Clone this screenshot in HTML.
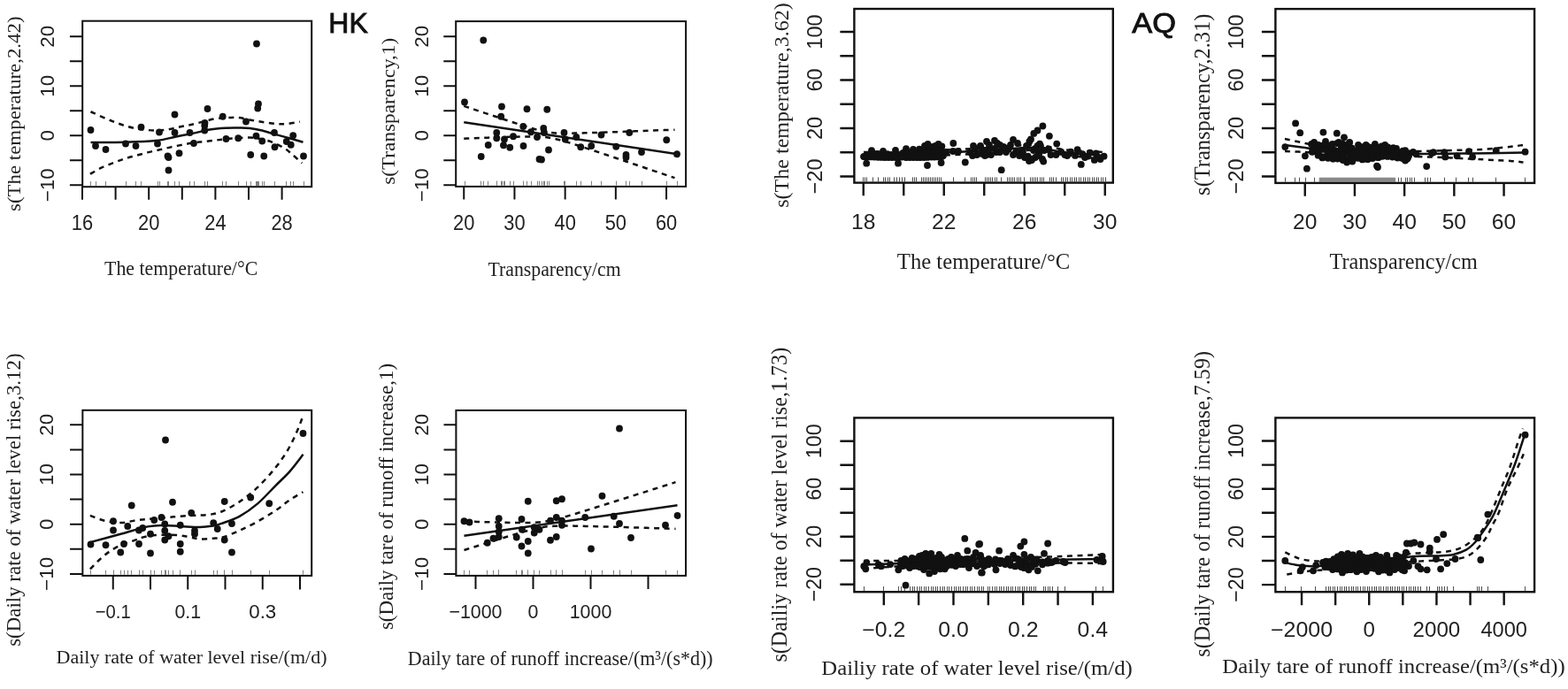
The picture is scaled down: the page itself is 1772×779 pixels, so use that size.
<!DOCTYPE html>
<html><head><meta charset="utf-8"><title>GAM partial effects HK AQ</title><style>
html,body{margin:0;padding:0;background:#fff;}
body{width:1772px;height:779px;overflow:hidden;}
svg{display:block;}
.box{fill:none;stroke:#111;}
.tick{fill:none;stroke:#111;}
.rug{fill:none;stroke-width:1;}
.solid{fill:none;stroke:#111;stroke-width:2.5;stroke-linejoin:round;}
.dash{fill:none;stroke:#111;stroke-width:2.5;stroke-dasharray:6 5.5;}
.pts circle{fill:#111;}
text{fill:#252525;}
.tl{fill:#222;font-family:"Liberation Sans", sans-serif;}
.ttl{fill:#222;font-family:"Liberation Serif", serif;}
.lab{fill:#111;stroke:#111;stroke-width:0.9px;font-family:"Liberation Sans", sans-serif;}
</style></head><body>
<svg width="1772" height="779" viewBox="0 0 1772 779">
<rect width="1772" height="779" fill="#fff"/>
<g>
<path class="rug" d="M102.5,210 v-5 M108.5,210 v-5 M119.5,210 v-5 M142.5,210 v-5 M153.5,210 v-5 M159.5,210 v-5 M178.5,210 v-5 M180.5,210 v-5 M190.5,210 v-5 M189.5,210 v-5 M190.5,210 v-5 M197.5,210 v-5 M197.5,210 v-5 M202.5,210 v-5 M214.5,210 v-5 M219.5,210 v-5 M231.5,210 v-5 M231.5,210 v-5 M231.5,210 v-5 M234.5,210 v-5 M251.5,210 v-5 M255.5,210 v-5 M269.5,210 v-5 M278.5,210 v-5 M283.5,210 v-5 M290.5,210 v-5 M292.5,210 v-5 M291.5,210 v-5 M289.5,210 v-5 M296.5,210 v-5 M298.5,210 v-5 M310.5,210 v-5 M310.5,210 v-5 M323.5,210 v-5 M328.5,210 v-5 M331.5,210 v-5 M343.5,210 v-5" stroke="#808080"/>
<path class="solid" d="M102.5,161 C108.92,160.97 128.75,161.12 141,160.8 C153.25,160.48 166.33,160.15 176,159.1 C185.67,158.05 191.67,155.95 199,154.5 C206.33,153.05 213.67,151.73 220,150.4 C226.33,149.07 231.22,147.45 237,146.5 C242.78,145.55 249.2,145.03 254.7,144.7 C260.2,144.37 265.38,144.47 270,144.5 C274.62,144.53 278.07,144.4 282.4,144.9 C286.73,145.4 291.38,146.38 296,147.5 C300.62,148.62 305.1,150.18 310.1,151.6 C315.1,153.02 320.6,154.47 326,156 C331.4,157.53 339.75,160 342.5,160.8"/>
<path class="dash" d="M102.5,126.25 C106.25,127.92 117.08,133.21 125,136.25 C132.92,139.29 140.83,142.62 150,144.5 C159.17,146.38 170.42,147.83 180,147.5 C189.58,147.17 200.83,143.75 207.5,142.5 C214.17,141.25 214.08,141.37 220,140 C225.92,138.63 236.5,135.45 243,134.3 C249.5,133.15 254.5,133.3 259,133.1 C263.5,132.9 265.67,132.62 270,133.1 C274.33,133.58 280.23,135.13 285,136 C289.77,136.87 294.03,137.63 298.6,138.3 C303.17,138.97 308.17,139.72 312.4,140 C316.63,140.28 319.57,140.38 324,140 C328.43,139.62 336.5,138.08 339,137.7"/>
<path class="dash" d="M101.9,196.7 C104.02,195.53 110.17,191.82 114.6,189.7 C119.03,187.58 124.07,185.73 128.5,184 C132.93,182.27 136.97,180.65 141.2,179.3 C145.43,177.95 149.67,177.05 153.9,175.9 C158.13,174.75 162.35,173.47 166.6,172.4 C170.85,171.33 175.15,170.47 179.4,169.5 C183.65,168.53 187.68,167.57 192.1,166.6 C196.52,165.63 201.28,164.6 205.9,163.7 C210.52,162.8 215.92,161.78 219.8,161.2 C223.68,160.62 225.12,160.65 229.2,160.2 C233.28,159.75 238.83,159.12 244.3,158.5 C249.77,157.88 255.65,156.98 262,156.5 C268.35,156.02 276.73,155.43 282.4,155.6 C288.07,155.77 291.77,156.63 296,157.5 C300.23,158.37 303.52,159.08 307.8,160.8 C312.08,162.52 317.83,165.38 321.7,167.8 C325.57,170.22 327.73,172.52 331,175.3 C334.27,178.08 339.58,182.97 341.3,184.5"/>
<g class="pts"><circle cx="102.5" cy="147" r="3.9"/><circle cx="108" cy="165" r="3.9"/><circle cx="119.5" cy="169" r="3.9"/><circle cx="142" cy="162.5" r="3.9"/><circle cx="153.5" cy="165" r="3.9"/><circle cx="159.5" cy="143.75" r="3.9"/><circle cx="178" cy="162.5" r="3.9"/><circle cx="180" cy="149.5" r="3.9"/><circle cx="190.5" cy="178" r="3.9"/><circle cx="189.5" cy="176.5" r="3.9"/><circle cx="190.5" cy="192.5" r="3.9"/><circle cx="197.5" cy="129.5" r="3.9"/><circle cx="197.5" cy="150" r="3.9"/><circle cx="202.5" cy="173.25" r="3.9"/><circle cx="214.5" cy="150" r="3.9"/><circle cx="219" cy="162" r="3.9"/><circle cx="231.25" cy="147.5" r="3.9"/><circle cx="231.25" cy="142" r="3.9"/><circle cx="231.5" cy="139" r="3.9"/><circle cx="234.5" cy="123" r="3.9"/><circle cx="251.75" cy="131.75" r="3.9"/><circle cx="255.5" cy="157" r="3.9"/><circle cx="269.25" cy="156.25" r="3.9"/><circle cx="278" cy="137.5" r="3.9"/><circle cx="283.25" cy="175" r="3.9"/><circle cx="290" cy="49.5" r="3.9"/><circle cx="292" cy="117.5" r="3.9"/><circle cx="291.25" cy="122.5" r="3.9"/><circle cx="289.5" cy="153.75" r="3.9"/><circle cx="296.25" cy="159.5" r="3.9"/><circle cx="298.25" cy="176.5" r="3.9"/><circle cx="310" cy="150" r="3.9"/><circle cx="310.5" cy="166.25" r="3.9"/><circle cx="323.75" cy="160" r="3.9"/><circle cx="328.75" cy="163.75" r="3.9"/><circle cx="331.25" cy="153.25" r="3.9"/><circle cx="343" cy="176.5" r="3.9"/></g>
<rect class="box" x="93.2" y="23.7" width="259" height="187.5" stroke-width="2"/>
<path class="tick" d="M93.2,41.3 h-14.3 M93.2,69.3 h-14.3 M93.2,97.3 h-14.3 M93.2,125.3 h-14.3 M93.2,153.3 h-14.3 M93.2,181.3 h-14.3 M93.2,209.3 h-14.3" stroke-width="2"/>
<path class="tick" d="M93,211.2 v14.5 M130.6,211.2 v14.5 M168.2,211.2 v14.5 M205.8,211.2 v14.5 M243.4,211.2 v14.5 M281,211.2 v14.5 M318.6,211.2 v14.5" stroke-width="2"/>
<text class="tl" transform="rotate(-90)" x="-41.3" y="60.6" font-size="22" text-anchor="middle" textLength="24.96" lengthAdjust="spacingAndGlyphs">20</text>
<text class="tl" transform="rotate(-90)" x="-97.3" y="60.6" font-size="22" text-anchor="middle" textLength="24.96" lengthAdjust="spacingAndGlyphs">10</text>
<text class="tl" transform="rotate(-90)" x="-153.3" y="60.6" font-size="22" text-anchor="middle" textLength="12.48" lengthAdjust="spacingAndGlyphs">0</text>
<text class="tl" transform="rotate(-90)" x="-209.3" y="60.6" font-size="22" text-anchor="middle" textLength="38.06" lengthAdjust="spacingAndGlyphs">−10</text>
<text class="tl" x="93" y="260.1" font-size="23.5" text-anchor="middle" textLength="24.31" lengthAdjust="spacingAndGlyphs">16</text>
<text class="tl" x="168.2" y="260.1" font-size="23.5" text-anchor="middle" textLength="24.31" lengthAdjust="spacingAndGlyphs">20</text>
<text class="tl" x="243.4" y="260.1" font-size="23.5" text-anchor="middle" textLength="24.31" lengthAdjust="spacingAndGlyphs">24</text>
<text class="tl" x="318.6" y="260.1" font-size="23.5" text-anchor="middle" textLength="24.31" lengthAdjust="spacingAndGlyphs">28</text>
<text class="ttl" x="118.11" y="311.2" font-size="23.06" textLength="173.1" lengthAdjust="spacingAndGlyphs">The temperature/°C</text>
<text class="ttl" transform="rotate(-90)" x="-239.04" y="22.8" font-size="21.62" textLength="220.65" lengthAdjust="spacingAndGlyphs">s(The temperature,2.42)</text>
</g>
<g>
<path class="rug" d="M546.5,209.7 v-5 M525.5,209.7 v-5 M567.5,209.7 v-5 M566.5,209.7 v-5 M595.5,209.7 v-5 M618.5,209.7 v-5 M591.5,209.7 v-5 M561.5,209.7 v-5 M561.5,209.7 v-5 M570.5,209.7 v-5 M580.5,209.7 v-5 M551.5,209.7 v-5 M569.5,209.7 v-5 M576.5,209.7 v-5 M591.5,209.7 v-5 M600.5,209.7 v-5 M607.5,209.7 v-5 M614.5,209.7 v-5 M615.5,209.7 v-5 M620.5,209.7 v-5 M609.5,209.7 v-5 M612.5,209.7 v-5 M543.5,209.7 v-5 M637.5,209.7 v-5 M638.5,209.7 v-5 M651.5,209.7 v-5 M656.5,209.7 v-5 M668.5,209.7 v-5 M679.5,209.7 v-5 M696.5,209.7 v-5 M707.5,209.7 v-5 M707.5,209.7 v-5 M711.5,209.7 v-5 M725.5,209.7 v-5 M753.5,209.7 v-5 M765.5,209.7 v-5" stroke="#808080"/>
<polyline class="solid" points="524.25,138.25 765,174.25"/>
<path class="dash" d="M524.25,119.81 C525.24,120.14 528.23,121.15 530.21,121.82 C532.2,122.49 534.17,123.15 536.16,123.82 C538.14,124.49 540.13,125.15 542.12,125.82 C544.11,126.49 546.1,127.15 548.08,127.82 C550.07,128.49 552.04,129.16 554.03,129.82 C556.01,130.48 558,131.14 559.99,131.8 C561.98,132.46 563.96,133.12 565.94,133.78 C567.93,134.44 569.91,135.1 571.9,135.76 C573.89,136.42 575.88,137.07 577.86,137.72 C579.85,138.37 581.82,139.01 583.81,139.65 C585.79,140.29 587.78,140.94 589.77,141.57 C591.76,142.2 593.75,142.83 595.73,143.44 C597.72,144.05 599.69,144.65 601.68,145.23 C603.66,145.81 605.65,146.39 607.64,146.91 C609.62,147.43 611.61,147.94 613.59,148.37 C615.58,148.8 617.56,149.19 619.55,149.5 C621.54,149.81 623.52,150.03 625.51,150.21 C627.5,150.39 629.48,150.49 631.46,150.57 C633.45,150.65 635.43,150.69 637.42,150.71 C639.41,150.73 641.39,150.71 643.38,150.7 C645.37,150.69 647.35,150.65 649.33,150.62 C651.32,150.59 653.3,150.55 655.29,150.5 C657.27,150.45 659.25,150.4 661.24,150.34 C663.23,150.28 665.21,150.23 667.2,150.17 C669.19,150.11 671.17,150.04 673.16,149.98 C675.14,149.91 677.12,149.85 679.11,149.78 C681.1,149.71 683.09,149.65 685.07,149.58 C687.06,149.51 689.03,149.43 691.02,149.36 C693,149.29 694.99,149.22 696.98,149.15 C698.97,149.08 700.96,149 702.94,148.93 C704.93,148.86 706.9,148.79 708.89,148.71 C710.88,148.63 712.86,148.56 714.85,148.48 C716.84,148.4 718.82,148.32 720.81,148.25 C722.79,148.18 724.77,148.1 726.76,148.03 C728.75,147.96 730.74,147.88 732.72,147.8 C734.71,147.72 736.68,147.65 738.67,147.57 C740.65,147.49 742.64,147.41 744.63,147.33 C746.62,147.25 748.61,147.18 750.59,147.1 C752.58,147.02 754.55,146.95 756.54,146.87 C758.52,146.79 761.51,146.68 762.5,146.64"/>
<path class="dash" d="M524.25,156.69 C525.24,156.65 528.23,156.53 530.21,156.46 C532.2,156.39 534.17,156.31 536.16,156.24 C538.14,156.17 540.13,156.09 542.12,156.02 C544.11,155.95 546.1,155.87 548.08,155.8 C550.07,155.73 552.04,155.66 554.03,155.59 C556.01,155.52 558,155.45 559.99,155.38 C561.98,155.31 563.96,155.25 565.94,155.18 C567.93,155.12 569.91,155.05 571.9,154.99 C573.89,154.93 575.88,154.88 577.86,154.82 C579.85,154.76 581.82,154.71 583.81,154.66 C585.79,154.61 587.78,154.57 589.77,154.53 C591.76,154.49 593.75,154.46 595.73,154.44 C597.72,154.42 599.69,154.4 601.68,154.42 C603.66,154.44 605.65,154.46 607.64,154.53 C609.62,154.6 611.61,154.69 613.59,154.85 C615.58,155.01 617.56,155.21 619.55,155.5 C621.54,155.79 623.52,156.16 625.51,156.57 C627.5,156.98 629.48,157.48 631.46,157.99 C633.45,158.5 635.43,159.07 637.42,159.64 C639.41,160.21 641.39,160.81 643.38,161.42 C645.37,162.03 647.35,162.65 649.33,163.28 C651.32,163.91 653.3,164.55 655.29,165.19 C657.27,165.83 659.25,166.48 661.24,167.13 C663.23,167.78 665.21,168.43 667.2,169.08 C669.19,169.73 671.17,170.39 673.16,171.05 C675.14,171.71 677.12,172.37 679.11,173.03 C681.1,173.69 683.09,174.36 685.07,175.02 C687.06,175.68 689.03,176.34 691.02,177.01 C693,177.67 694.99,178.34 696.98,179.01 C698.97,179.68 700.96,180.34 702.94,181.01 C704.93,181.68 706.9,182.34 708.89,183.01 C710.88,183.68 712.86,184.35 714.85,185.02 C716.84,185.69 718.82,186.36 720.81,187.03 C722.79,187.7 724.77,188.37 726.76,189.04 C728.75,189.71 730.74,190.38 732.72,191.05 C734.71,191.72 736.68,192.39 738.67,193.06 C740.65,193.73 742.64,194.4 744.63,195.07 C746.62,195.74 748.61,196.42 750.59,197.09 C752.58,197.76 754.55,198.43 756.54,199.1 C758.52,199.77 761.51,200.78 762.5,201.12"/>
<g class="pts"><circle cx="546.25" cy="45.5" r="3.9"/><circle cx="525" cy="115.5" r="3.9"/><circle cx="567" cy="120.5" r="3.9"/><circle cx="566.25" cy="131.75" r="3.9"/><circle cx="595.5" cy="123.25" r="3.9"/><circle cx="618.25" cy="123.75" r="3.9"/><circle cx="591.25" cy="143" r="3.9"/><circle cx="561.25" cy="150" r="3.9"/><circle cx="561.25" cy="156.25" r="3.9"/><circle cx="570" cy="157.5" r="3.9"/><circle cx="580" cy="154.25" r="3.9"/><circle cx="551.75" cy="164" r="3.9"/><circle cx="569" cy="164.25" r="3.9"/><circle cx="576.25" cy="166.75" r="3.9"/><circle cx="591.5" cy="165" r="3.9"/><circle cx="600" cy="149.25" r="3.9"/><circle cx="607" cy="155" r="3.9"/><circle cx="614.25" cy="145" r="3.9"/><circle cx="615" cy="150" r="3.9"/><circle cx="620" cy="169.5" r="3.9"/><circle cx="609.5" cy="180" r="3.9"/><circle cx="612" cy="180.5" r="3.9"/><circle cx="543.75" cy="177" r="3.9"/><circle cx="637.5" cy="150" r="3.9"/><circle cx="638.75" cy="157.5" r="3.9"/><circle cx="651.25" cy="155" r="3.9"/><circle cx="656.25" cy="166.25" r="3.9"/><circle cx="668.25" cy="165" r="3.9"/><circle cx="679.5" cy="152.5" r="3.9"/><circle cx="696.25" cy="165.75" r="3.9"/><circle cx="707.5" cy="178" r="3.9"/><circle cx="707.5" cy="175" r="3.9"/><circle cx="711.25" cy="150" r="3.9"/><circle cx="725" cy="172" r="3.9"/><circle cx="753.25" cy="158.25" r="3.9"/><circle cx="765" cy="174.25" r="3.9"/></g>
<rect class="box" x="515.2" y="24.1" width="259.9" height="186.8" stroke-width="2"/>
<path class="tick" d="M515.2,41.3 h-13.9 M515.2,69.3 h-13.9 M515.2,97.3 h-13.9 M515.2,125.3 h-13.9 M515.2,153.3 h-13.9 M515.2,181.3 h-13.9 M515.2,209.3 h-13.9" stroke-width="2"/>
<path class="tick" d="M524.25,210.9 v14.5 M581.45,210.9 v14.5 M638.65,210.9 v14.5 M695.85,210.9 v14.5 M753.05,210.9 v14.5" stroke-width="2"/>
<text class="tl" transform="rotate(-90)" x="-41.3" y="483.8" font-size="22" text-anchor="middle" textLength="24.96" lengthAdjust="spacingAndGlyphs">20</text>
<text class="tl" transform="rotate(-90)" x="-97.3" y="483.8" font-size="22" text-anchor="middle" textLength="24.96" lengthAdjust="spacingAndGlyphs">10</text>
<text class="tl" transform="rotate(-90)" x="-153.3" y="483.8" font-size="22" text-anchor="middle" textLength="12.48" lengthAdjust="spacingAndGlyphs">0</text>
<text class="tl" transform="rotate(-90)" x="-209.3" y="483.8" font-size="22" text-anchor="middle" textLength="38.06" lengthAdjust="spacingAndGlyphs">−10</text>
<text class="tl" x="524.25" y="260.1" font-size="23.5" text-anchor="middle" textLength="24.31" lengthAdjust="spacingAndGlyphs">20</text>
<text class="tl" x="581.45" y="260.1" font-size="23.5" text-anchor="middle" textLength="24.31" lengthAdjust="spacingAndGlyphs">30</text>
<text class="tl" x="638.65" y="260.1" font-size="23.5" text-anchor="middle" textLength="24.31" lengthAdjust="spacingAndGlyphs">40</text>
<text class="tl" x="695.85" y="260.1" font-size="23.5" text-anchor="middle" textLength="24.31" lengthAdjust="spacingAndGlyphs">50</text>
<text class="tl" x="753.05" y="260.1" font-size="23.5" text-anchor="middle" textLength="24.31" lengthAdjust="spacingAndGlyphs">60</text>
<text class="ttl" x="551.56" y="311.85" font-size="23.82" textLength="150.08" lengthAdjust="spacingAndGlyphs">Transparency/cm</text>
<text class="ttl" transform="rotate(-90)" x="-208.84" y="446.2" font-size="21.08" textLength="166.05" lengthAdjust="spacingAndGlyphs">s(Transparency,1)</text>
</g>
<g>
<path class="rug" d="M975.5,205.4 v-5 M977.5,205.4 v-5 M979.5,205.4 v-5 M986.5,205.4 v-5 M992.5,205.4 v-5 M998.5,205.4 v-5 M1000.5,205.4 v-5 M1003.5,205.4 v-5 M1005.5,205.4 v-5 M1010.5,205.4 v-5 M1013.5,205.4 v-5 M1016.5,205.4 v-5 M1019.5,205.4 v-5 M1022.5,205.4 v-5 M1031.5,205.4 v-5 M1033.5,205.4 v-5 M1035.5,205.4 v-5 M1041.5,205.4 v-5 M1043.5,205.4 v-5 M1045.5,205.4 v-5 M1047.5,205.4 v-5 M1049.5,205.4 v-5 M1051.5,205.4 v-5 M1053.5,205.4 v-5 M1055.5,205.4 v-5 M1057.5,205.4 v-5 M1059.5,205.4 v-5 M1061.5,205.4 v-5 M1063.5,205.4 v-5 M1077.5,205.4 v-5 M1090.5,205.4 v-5 M1097.5,205.4 v-5 M1099.5,205.4 v-5 M1101.5,205.4 v-5 M1103.5,205.4 v-5 M1113.5,205.4 v-5 M1115.5,205.4 v-5 M1117.5,205.4 v-5 M1119.5,205.4 v-5 M1121.5,205.4 v-5 M1124.5,205.4 v-5 M1126.5,205.4 v-5 M1131.5,205.4 v-5 M1138.5,205.4 v-5 M1140.5,205.4 v-5 M1142.5,205.4 v-5 M1144.5,205.4 v-5 M1146.5,205.4 v-5 M1149.5,205.4 v-5 M1151.5,205.4 v-5 M1153.5,205.4 v-5 M1157.5,205.4 v-5 M1164.5,205.4 v-5 M1166.5,205.4 v-5 M1168.5,205.4 v-5 M1170.5,205.4 v-5 M1172.5,205.4 v-5 M1175.5,205.4 v-5 M1177.5,205.4 v-5 M1179.5,205.4 v-5 M1186.5,205.4 v-5 M1188.5,205.4 v-5 M1190.5,205.4 v-5 M1193.5,205.4 v-5 M1199.5,205.4 v-5 M1201.5,205.4 v-5 M1204.5,205.4 v-5 M1206.5,205.4 v-5 M1209.5,205.4 v-5 M1211.5,205.4 v-5 M1214.5,205.4 v-5 M1216.5,205.4 v-5 M1219.5,205.4 v-5 M1221.5,205.4 v-5 M1224.5,205.4 v-5 M1226.5,205.4 v-5 M1229.5,205.4 v-5 M1231.5,205.4 v-5 M1234.5,205.4 v-5 M1236.5,205.4 v-5 M1239.5,205.4 v-5 M1241.5,205.4 v-5 M1244.5,205.4 v-5 M1246.5,205.4 v-5 M1249.5,205.4 v-5" stroke="#505050"/>
<path class="solid" d="M976,176 C983.33,175.83 1006,175.5 1020,175 C1034,174.5 1046.67,173.67 1060,173 C1073.33,172.33 1088.33,171.67 1100,171 C1111.67,170.33 1120,169.67 1130,169 C1140,168.33 1152.5,167.33 1160,167 C1167.5,166.67 1170,166.5 1175,167 C1180,167.5 1184.17,169 1190,170 C1195.83,171 1200.33,172 1210,173 C1219.67,174 1241.67,175.5 1248,176"/>
<path class="dash" d="M976,172 C983.33,172 1006,172.33 1020,172 C1034,171.67 1046.67,170.67 1060,170 C1073.33,169.33 1088.33,168.67 1100,168 C1111.67,167.33 1120,166.67 1130,166 C1140,165.33 1152.5,164.33 1160,164 C1167.5,163.67 1170,163.5 1175,164 C1180,164.5 1184.17,166 1190,167 C1195.83,168 1200.33,169.17 1210,170 C1219.67,170.83 1241.67,171.67 1248,172"/>
<path class="dash" d="M976,180 C983.33,179.67 1006,178.67 1020,178 C1034,177.33 1046.67,176.67 1060,176 C1073.33,175.33 1088.33,174.67 1100,174 C1111.67,173.33 1120,172.67 1130,172 C1140,171.33 1152.5,170.33 1160,170 C1167.5,169.67 1170,169.5 1175,170 C1180,170.5 1184.17,172 1190,173 C1195.83,174 1200.33,174.83 1210,176 C1219.67,177.17 1241.67,179.33 1248,180"/>
<g class="pts"><circle cx="977.03" cy="176.83" r="3.9"/><circle cx="976" cy="177.1" r="3.9"/><circle cx="978.9" cy="176.52" r="3.9"/><circle cx="980" cy="177.27" r="3.9"/><circle cx="983.18" cy="176.22" r="3.9"/><circle cx="984" cy="177.43" r="3.9"/><circle cx="987.45" cy="173.53" r="3.9"/><circle cx="988" cy="177.6" r="3.9"/><circle cx="991.83" cy="173.8" r="3.9"/><circle cx="992" cy="177.77" r="3.9"/><circle cx="996.34" cy="174.69" r="3.9"/><circle cx="996" cy="177.93" r="3.9"/><circle cx="1000.82" cy="175.56" r="3.9"/><circle cx="1000" cy="178.1" r="3.9"/><circle cx="1002.9" cy="174.03" r="3.9"/><circle cx="1004" cy="178.1" r="3.9"/><circle cx="1007.4" cy="174.9" r="3.9"/><circle cx="1008" cy="178.1" r="3.9"/><circle cx="1011.81" cy="175.32" r="3.9"/><circle cx="1012" cy="178.1" r="3.9"/><circle cx="1016.12" cy="175.33" r="3.9"/><circle cx="1016" cy="178.1" r="3.9"/><circle cx="1020.46" cy="172.92" r="3.9"/><circle cx="1019.3" cy="177.49" r="3.9"/><circle cx="1024.77" cy="172.8" r="3.9"/><circle cx="1023.62" cy="177.38" r="3.9"/><circle cx="1024" cy="178.1" r="3.9"/><circle cx="1029.06" cy="172.51" r="3.9"/><circle cx="1027.9" cy="177.09" r="3.9"/><circle cx="1028" cy="178.1" r="3.9"/><circle cx="1030.94" cy="172.24" r="3.9"/><circle cx="1032.19" cy="176.82" r="3.9"/><circle cx="1032" cy="178.1" r="3.9"/><circle cx="1035.11" cy="171.35" r="3.9"/><circle cx="1036.36" cy="175.93" r="3.9"/><circle cx="1036" cy="178.1" r="3.9"/><circle cx="1038.94" cy="168.56" r="3.9"/><circle cx="1040.19" cy="173.14" r="3.9"/><circle cx="1039.04" cy="177.71" r="3.9"/><circle cx="1040" cy="178.1" r="3.9"/><circle cx="1045.18" cy="168.17" r="3.9"/><circle cx="1044.02" cy="170.34" r="3.9"/><circle cx="1042.87" cy="174.92" r="3.9"/><circle cx="1044" cy="178.1" r="3.9"/><circle cx="1046.87" cy="166.95" r="3.9"/><circle cx="1048.12" cy="169.12" r="3.9"/><circle cx="1046.97" cy="173.7" r="3.9"/><circle cx="1048" cy="177.96" r="3.9"/><circle cx="1051.09" cy="166.24" r="3.9"/><circle cx="1052.34" cy="168.42" r="3.9"/><circle cx="1051.18" cy="173" r="3.9"/><circle cx="1052.43" cy="177.57" r="3.9"/><circle cx="1055.3" cy="165.54" r="3.9"/><circle cx="1056.55" cy="167.72" r="3.9"/><circle cx="1055.4" cy="172.29" r="3.9"/><circle cx="1056.65" cy="176.87" r="3.9"/><circle cx="1056" cy="177.58" r="3.9"/><circle cx="1059.5" cy="164.84" r="3.9"/><circle cx="1060.74" cy="167.01" r="3.9"/><circle cx="1059.59" cy="171.59" r="3.9"/><circle cx="1060.84" cy="176.16" r="3.9"/><circle cx="1060" cy="177.39" r="3.9"/><circle cx="1064.38" cy="165.47" r="3.9"/><circle cx="1063.23" cy="170.05" r="3.9"/><circle cx="1064.48" cy="172.23" r="3.9"/><circle cx="1064" cy="177.2" r="3.9"/><circle cx="985" cy="170.2" r="3.9"/><circle cx="998" cy="170.8" r="3.9"/><circle cx="1012" cy="169.8" r="3.9"/><circle cx="1024" cy="168.2" r="3.9"/><circle cx="1032" cy="168.8" r="3.9"/><circle cx="979.2" cy="184.7" r="3.9"/><circle cx="1015" cy="184.7" r="3.9"/><circle cx="1048" cy="187" r="3.9"/><circle cx="1063.6" cy="184" r="3.9"/><circle cx="1045" cy="165" r="3.9"/><circle cx="1048.5" cy="163" r="3.9"/><circle cx="1057.4" cy="164.9" r="3.9"/><circle cx="1060.5" cy="162.9" r="3.9"/><circle cx="1063" cy="170" r="3.9"/><circle cx="1066" cy="176" r="3.9"/><circle cx="1069" cy="172" r="3.9"/><circle cx="1077.3" cy="162" r="3.9"/><circle cx="1077" cy="171" r="3.9"/><circle cx="1083" cy="171" r="3.9"/><circle cx="1090.8" cy="183.5" r="3.9"/><circle cx="1100" cy="165" r="3.9"/><circle cx="1096" cy="172" r="3.9"/><circle cx="1104" cy="175" r="3.9"/><circle cx="1099" cy="176" r="3.9"/><circle cx="1102" cy="168" r="3.9"/><circle cx="1115" cy="160" r="3.9"/><circle cx="1124" cy="159" r="3.9"/><circle cx="1112" cy="170" r="3.9"/><circle cx="1118" cy="168" r="3.9"/><circle cx="1130" cy="164" r="3.9"/><circle cx="1135" cy="167" r="3.9"/><circle cx="1113" cy="176" r="3.9"/><circle cx="1126" cy="172" r="3.9"/><circle cx="1120" cy="175" r="3.9"/><circle cx="1108" cy="166" r="3.9"/><circle cx="1110" cy="174" r="3.9"/><circle cx="1131.7" cy="192.2" r="3.9"/><circle cx="1145" cy="158" r="3.9"/><circle cx="1150" cy="162" r="3.9"/><circle cx="1140" cy="168" r="3.9"/><circle cx="1148" cy="172" r="3.9"/><circle cx="1155" cy="170" r="3.9"/><circle cx="1160" cy="165" r="3.9"/><circle cx="1158" cy="178" r="3.9"/><circle cx="1163" cy="182" r="3.9"/><circle cx="1142" cy="164" r="3.9"/><circle cx="1152" cy="176" r="3.9"/><circle cx="1145" cy="175" r="3.9"/><circle cx="1178.4" cy="142.5" r="3.9"/><circle cx="1172.5" cy="147.5" r="3.9"/><circle cx="1168.3" cy="150.9" r="3.9"/><circle cx="1165" cy="157.5" r="3.9"/><circle cx="1163.3" cy="160" r="3.9"/><circle cx="1185.9" cy="153.8" r="3.9"/><circle cx="1160.8" cy="165.9" r="3.9"/><circle cx="1161.7" cy="176.7" r="3.9"/><circle cx="1165" cy="180" r="3.9"/><circle cx="1172.5" cy="165" r="3.9"/><circle cx="1174.2" cy="174.2" r="3.9"/><circle cx="1179.2" cy="182.6" r="3.9"/><circle cx="1175" cy="162.6" r="3.9"/><circle cx="1185" cy="168.4" r="3.9"/><circle cx="1187.5" cy="175" r="3.9"/><circle cx="1194.2" cy="162.6" r="3.9"/><circle cx="1193.4" cy="175" r="3.9"/><circle cx="1199.2" cy="171.7" r="3.9"/><circle cx="1203.4" cy="175" r="3.9"/><circle cx="1210" cy="171.7" r="3.9"/><circle cx="1215" cy="175.9" r="3.9"/><circle cx="1217.6" cy="169.2" r="3.9"/><circle cx="1221.8" cy="185.9" r="3.9"/><circle cx="1223.4" cy="174.2" r="3.9"/><circle cx="1229.3" cy="176.7" r="3.9"/><circle cx="1231.8" cy="172.6" r="3.9"/><circle cx="1236.8" cy="180.9" r="3.9"/><circle cx="1238.5" cy="173.4" r="3.9"/><circle cx="1243.5" cy="180" r="3.9"/><circle cx="1247.6" cy="176.7" r="3.9"/><circle cx="1168" cy="170" r="3.9"/><circle cx="1170" cy="178" r="3.9"/><circle cx="1180" cy="170" r="3.9"/><circle cx="1206" cy="176" r="3.9"/><circle cx="1226" cy="178" r="3.9"/><circle cx="1240" cy="177" r="3.9"/><circle cx="1108" cy="165" r="3.9"/><circle cx="1112" cy="170" r="3.9"/><circle cx="1118" cy="164" r="3.9"/><circle cx="1124" cy="168" r="3.9"/><circle cx="1130" cy="172" r="3.9"/><circle cx="1134" cy="166" r="3.9"/><circle cx="1127" cy="162" r="3.9"/><circle cx="1156" cy="172" r="3.9"/><circle cx="1160" cy="178" r="3.9"/><circle cx="1166" cy="181" r="3.9"/><circle cx="1170" cy="168" r="3.9"/><circle cx="1173" cy="176" r="3.9"/><circle cx="1176" cy="165" r="3.9"/><circle cx="1178" cy="180" r="3.9"/><circle cx="1115" cy="175" r="3.9"/><circle cx="1137" cy="172" r="3.9"/></g>
<rect class="box" x="965.4" y="10" width="292.4" height="196.6" stroke-width="2.4"/>
<path class="tick" d="M965.4,36.05 h-16 M965.4,63.28 h-16 M965.4,90.51 h-16 M965.4,117.74 h-16 M965.4,144.97 h-16 M965.4,172.2 h-16 M965.4,199.43 h-16" stroke-width="2.4"/>
<path class="tick" d="M975.75,206.6 v14.75 M1021.25,206.6 v14.75 M1066.75,206.6 v14.75 M1112.25,206.6 v14.75 M1157.75,206.6 v14.75 M1203.25,206.6 v14.75 M1248.75,206.6 v14.75" stroke-width="2.4"/>
<text class="tl" transform="rotate(-90)" x="-36.05" y="928.6" font-size="24.3" text-anchor="middle" textLength="39.33" lengthAdjust="spacingAndGlyphs">100</text>
<text class="tl" transform="rotate(-90)" x="-90.51" y="928.6" font-size="24.3" text-anchor="middle" textLength="26.22" lengthAdjust="spacingAndGlyphs">60</text>
<text class="tl" transform="rotate(-90)" x="-144.97" y="928.6" font-size="24.3" text-anchor="middle" textLength="26.22" lengthAdjust="spacingAndGlyphs">20</text>
<text class="tl" transform="rotate(-90)" x="-199.43" y="928.6" font-size="24.3" text-anchor="middle" textLength="39.98" lengthAdjust="spacingAndGlyphs">−20</text>
<text class="tl" x="975.75" y="258.6" font-size="24.6" text-anchor="middle" textLength="27.36" lengthAdjust="spacingAndGlyphs">18</text>
<text class="tl" x="1066.75" y="258.6" font-size="24.6" text-anchor="middle" textLength="27.36" lengthAdjust="spacingAndGlyphs">22</text>
<text class="tl" x="1157.75" y="258.6" font-size="24.6" text-anchor="middle" textLength="27.36" lengthAdjust="spacingAndGlyphs">26</text>
<text class="tl" x="1248.75" y="258.6" font-size="24.6" text-anchor="middle" textLength="27.36" lengthAdjust="spacingAndGlyphs">30</text>
<text class="ttl" x="1013.85" y="304.3" font-size="24.44" textLength="195.41" lengthAdjust="spacingAndGlyphs">The temperature/°C</text>
<text class="ttl" transform="rotate(-90)" x="-234.79" y="890.6" font-size="23.92" textLength="231.59" lengthAdjust="spacingAndGlyphs">s(The temperature,3.62)</text>
</g>
<g>
<path class="rug" d="M1452.5,205.7 v-5 M1463.5,205.7 v-5 M1468.5,205.7 v-5 M1475.5,205.7 v-5 M1485.5,205.7 v-5 M1580.5,205.7 v-5 M1583.5,205.7 v-5 M1588.5,205.7 v-5 M1590.5,205.7 v-5 M1593.5,205.7 v-5 M1595.5,205.7 v-5 M1598.5,205.7 v-5 M1610.5,205.7 v-5 M1613.5,205.7 v-5 M1616.5,205.7 v-5 M1632.5,205.7 v-5 M1645.5,205.7 v-5 M1659.5,205.7 v-5 M1664.5,205.7 v-5 M1690.5,205.7 v-5 M1723.5,205.7 v-5" stroke="#505050"/>
<rect x="1490.7" y="200.7" width="86.4" height="5" fill="#8a8a8a"/>
<path class="solid" d="M1452,164 C1455.83,164.5 1467,166 1475,167 C1483,168 1487.5,169 1500,170 C1512.5,171 1533.33,172.33 1550,173 C1566.67,173.67 1581.67,173.92 1600,174 C1618.33,174.08 1639.67,173.75 1660,173.5 C1680.33,173.25 1711.67,172.67 1722,172.5"/>
<path class="dash" d="M1452,157 C1455.83,157.83 1467,160.33 1475,162 C1483,163.67 1487.5,165.5 1500,167 C1512.5,168.5 1533.33,170.33 1550,171 C1566.67,171.67 1585,171.17 1600,171 C1615,170.83 1627.67,170.33 1640,170 C1652.33,169.67 1663,169.67 1674,169 C1685,168.33 1698.17,166.83 1706,166 C1713.83,165.17 1718.5,164.33 1721,164"/>
<path class="dash" d="M1452,171 C1455.83,171.17 1467,171.5 1475,172 C1483,172.5 1487.5,173.33 1500,174 C1512.5,174.67 1533.33,175.5 1550,176 C1566.67,176.5 1585,176.58 1600,177 C1615,177.42 1627.17,177.93 1640,178.5 C1652.83,179.07 1665.83,179.82 1677,180.4 C1688.17,180.98 1699.58,181.48 1707,182 C1714.42,182.52 1719.08,183.25 1721.5,183.5"/>
<g class="pts"><circle cx="1452.3" cy="166.1" r="3.9"/><circle cx="1464.1" cy="139.4" r="3.9"/><circle cx="1469.2" cy="150.2" r="3.9"/><circle cx="1474.9" cy="176.3" r="3.9"/><circle cx="1476.9" cy="190.7" r="3.9"/><circle cx="1482.1" cy="163" r="3.9"/><circle cx="1485.1" cy="160.9" r="3.9"/><circle cx="1484.1" cy="170.2" r="3.9"/><circle cx="1495.4" cy="149.6" r="3.9"/><circle cx="1496.4" cy="164" r="3.9"/><circle cx="1494.4" cy="178.4" r="3.9"/><circle cx="1500.5" cy="171.2" r="3.9"/><circle cx="1505.7" cy="163" r="3.9"/><circle cx="1506.7" cy="179.4" r="3.9"/><circle cx="1508.8" cy="170.2" r="3.9"/><circle cx="1510.8" cy="150.7" r="3.9"/><circle cx="1512.9" cy="160.9" r="3.9"/><circle cx="1514.9" cy="172.2" r="3.9"/><circle cx="1519" cy="155.3" r="3.9"/><circle cx="1520.1" cy="168.1" r="3.9"/><circle cx="1522.1" cy="183.5" r="3.9"/><circle cx="1525.2" cy="160.9" r="3.9"/><circle cx="1526.2" cy="176.3" r="3.9"/><circle cx="1528.3" cy="182.5" r="3.9"/><circle cx="1533.4" cy="171.2" r="3.9"/><circle cx="1538.5" cy="166.1" r="3.9"/><circle cx="1539.6" cy="180.4" r="3.9"/><circle cx="1543.7" cy="164" r="3.9"/><circle cx="1544.7" cy="173.3" r="3.9"/><circle cx="1548.8" cy="178.4" r="3.9"/><circle cx="1553.9" cy="163" r="3.9"/><circle cx="1556" cy="187.6" r="3.9"/><circle cx="1559.1" cy="172.2" r="3.9"/><circle cx="1565.2" cy="164" r="3.9"/><circle cx="1569.3" cy="176.3" r="3.9"/><circle cx="1574.5" cy="167.1" r="3.9"/><circle cx="1579.6" cy="178.4" r="3.9"/><circle cx="1586.8" cy="171.2" r="3.9"/><circle cx="1587.8" cy="180.4" r="3.9"/><circle cx="1490" cy="172" r="3.9"/><circle cx="1502" cy="176" r="3.9"/><circle cx="1516" cy="166" r="3.9"/><circle cx="1530" cy="174" r="3.9"/><circle cx="1535" cy="164" r="3.9"/><circle cx="1548" cy="170" r="3.9"/><circle cx="1552" cy="176" r="3.9"/><circle cx="1562" cy="170" r="3.9"/><circle cx="1572" cy="172" r="3.9"/><circle cx="1582" cy="174" r="3.9"/><circle cx="1597" cy="172" r="3.9"/><circle cx="1524" cy="172" r="3.9"/><circle cx="1488.5" cy="168" r="3.9"/><circle cx="1498" cy="160" r="3.9"/><circle cx="1508" cy="176" r="3.9"/><circle cx="1518" cy="178" r="3.9"/><circle cx="1528" cy="168" r="3.9"/><circle cx="1544" cy="168" r="3.9"/><circle cx="1558" cy="178" r="3.9"/><circle cx="1566" cy="172" r="3.9"/><circle cx="1578" cy="168" r="3.9"/><circle cx="1588.1" cy="170.2" r="3.9"/><circle cx="1588.1" cy="181.5" r="3.9"/><circle cx="1600.4" cy="174.3" r="3.9"/><circle cx="1612.2" cy="188.1" r="3.9"/><circle cx="1617.9" cy="173.3" r="3.9"/><circle cx="1619.9" cy="172.2" r="3.9"/><circle cx="1632.2" cy="172.2" r="3.9"/><circle cx="1633.3" cy="177.4" r="3.9"/><circle cx="1646.6" cy="176.3" r="3.9"/><circle cx="1660" cy="171.2" r="3.9"/><circle cx="1664.1" cy="177.4" r="3.9"/><circle cx="1690.7" cy="170.2" r="3.9"/><circle cx="1723.6" cy="171.7" r="3.9"/><circle cx="1557" cy="189" r="3.9"/><circle cx="1483.75" cy="163.5" r="3.9"/><circle cx="1482.78" cy="171.76" r="3.9"/><circle cx="1484" cy="171.27" r="3.9"/><circle cx="1489.89" cy="163.91" r="3.9"/><circle cx="1488.92" cy="168.58" r="3.9"/><circle cx="1489.6" cy="175.7" r="3.9"/><circle cx="1496.03" cy="164.33" r="3.9"/><circle cx="1495.06" cy="168.96" r="3.9"/><circle cx="1494.08" cy="177.23" r="3.9"/><circle cx="1495.2" cy="178.03" r="3.9"/><circle cx="1502.17" cy="164.72" r="3.9"/><circle cx="1501.2" cy="169.38" r="3.9"/><circle cx="1500.22" cy="174.04" r="3.9"/><circle cx="1500.8" cy="178.77" r="3.9"/><circle cx="1504.74" cy="165.19" r="3.9"/><circle cx="1507.37" cy="169.82" r="3.9"/><circle cx="1506.36" cy="174.48" r="3.9"/><circle cx="1506.4" cy="179.52" r="3.9"/><circle cx="1510.88" cy="162.04" r="3.9"/><circle cx="1513.51" cy="170.3" r="3.9"/><circle cx="1512.54" cy="174.93" r="3.9"/><circle cx="1511.57" cy="179.59" r="3.9"/><circle cx="1517.06" cy="162.52" r="3.9"/><circle cx="1516.05" cy="167.14" r="3.9"/><circle cx="1518.68" cy="175.41" r="3.9"/><circle cx="1517.71" cy="180.04" r="3.9"/><circle cx="1517.6" cy="180.99" r="3.9"/><circle cx="1523.27" cy="163.23" r="3.9"/><circle cx="1522.26" cy="167.9" r="3.9"/><circle cx="1524.89" cy="172.52" r="3.9"/><circle cx="1523.92" cy="180.79" r="3.9"/><circle cx="1523.2" cy="181.64" r="3.9"/><circle cx="1527.47" cy="167.51" r="3.9"/><circle cx="1530.06" cy="172.17" r="3.9"/><circle cx="1529.09" cy="176.8" r="3.9"/><circle cx="1528.8" cy="179.97" r="3.9"/><circle cx="1534.83" cy="169.94" r="3.9"/><circle cx="1533.86" cy="174.6" r="3.9"/><circle cx="1534.4" cy="178.79" r="3.9"/><circle cx="1540.36" cy="167.55" r="3.9"/><circle cx="1539.39" cy="172.18" r="3.9"/><circle cx="1538.42" cy="176.85" r="3.9"/><circle cx="1540" cy="179.88" r="3.9"/><circle cx="1546.07" cy="165.93" r="3.9"/><circle cx="1545.1" cy="170.56" r="3.9"/><circle cx="1544.09" cy="175.22" r="3.9"/><circle cx="1545.6" cy="180.22" r="3.9"/><circle cx="1552.1" cy="165.82" r="3.9"/><circle cx="1551.13" cy="170.45" r="3.9"/><circle cx="1550.12" cy="175.11" r="3.9"/><circle cx="1551.2" cy="179.09" r="3.9"/><circle cx="1558.38" cy="166.87" r="3.9"/><circle cx="1557.41" cy="171.54" r="3.9"/><circle cx="1556.4" cy="176.16" r="3.9"/><circle cx="1556.8" cy="177.95" r="3.9"/><circle cx="1561.32" cy="165.49" r="3.9"/><circle cx="1563.95" cy="170.15" r="3.9"/><circle cx="1562.4" cy="176.82" r="3.9"/><circle cx="1568.4" cy="166.52" r="3.9"/><circle cx="1567.42" cy="174.75" r="3.9"/><circle cx="1568" cy="176.96" r="3.9"/><circle cx="1572.09" cy="168.48" r="3.9"/><circle cx="1574.72" cy="176.71" r="3.9"/><circle cx="1573.6" cy="177.6" r="3.9"/><circle cx="1578.84" cy="171.64" r="3.9"/><circle cx="1577.87" cy="176.26" r="3.9"/><circle cx="1579.2" cy="178.25" r="3.9"/><circle cx="1585.48" cy="170.73" r="3.9"/><circle cx="1584.51" cy="175.39" r="3.9"/><circle cx="1584.8" cy="178.89" r="3.9"/><circle cx="1592.13" cy="173.41" r="3.9"/><circle cx="1591.16" cy="178.08" r="3.9"/><circle cx="1590.4" cy="179.53" r="3.9"/></g>
<rect class="box" x="1441.4" y="10.1" width="292.7" height="196.8" stroke-width="2.4"/>
<path class="tick" d="M1441.4,36.05 h-15.5 M1441.4,63.28 h-15.5 M1441.4,90.51 h-15.5 M1441.4,117.74 h-15.5 M1441.4,144.97 h-15.5 M1441.4,172.2 h-15.5 M1441.4,199.43 h-15.5" stroke-width="2.4"/>
<path class="tick" d="M1474.75,206.9 v14.75 M1530.95,206.9 v14.75 M1587.15,206.9 v14.75 M1643.35,206.9 v14.75 M1699.55,206.9 v14.75" stroke-width="2.4"/>
<text class="tl" transform="rotate(-90)" x="-36.05" y="1405.4" font-size="24.3" text-anchor="middle" textLength="39.33" lengthAdjust="spacingAndGlyphs">100</text>
<text class="tl" transform="rotate(-90)" x="-90.51" y="1405.4" font-size="24.3" text-anchor="middle" textLength="26.22" lengthAdjust="spacingAndGlyphs">60</text>
<text class="tl" transform="rotate(-90)" x="-144.97" y="1405.4" font-size="24.3" text-anchor="middle" textLength="26.22" lengthAdjust="spacingAndGlyphs">20</text>
<text class="tl" transform="rotate(-90)" x="-199.43" y="1405.4" font-size="24.3" text-anchor="middle" textLength="39.98" lengthAdjust="spacingAndGlyphs">−20</text>
<text class="tl" x="1474.75" y="258.6" font-size="24.6" text-anchor="middle" textLength="27.36" lengthAdjust="spacingAndGlyphs">20</text>
<text class="tl" x="1530.95" y="258.6" font-size="24.6" text-anchor="middle" textLength="27.36" lengthAdjust="spacingAndGlyphs">30</text>
<text class="tl" x="1587.15" y="258.6" font-size="24.6" text-anchor="middle" textLength="27.36" lengthAdjust="spacingAndGlyphs">40</text>
<text class="tl" x="1643.35" y="258.6" font-size="24.6" text-anchor="middle" textLength="27.36" lengthAdjust="spacingAndGlyphs">50</text>
<text class="tl" x="1699.55" y="258.6" font-size="24.6" text-anchor="middle" textLength="27.36" lengthAdjust="spacingAndGlyphs">60</text>
<text class="ttl" x="1502.46" y="303.7" font-size="24.28" textLength="167.41" lengthAdjust="spacingAndGlyphs">Transparency/cm</text>
<text class="ttl" transform="rotate(-90)" x="-220.89" y="1366.7" font-size="25.66" textLength="205.35" lengthAdjust="spacingAndGlyphs">s(Transparency,2.31)</text>
</g>
<g>
<path class="rug" d="M148.5,649.7 v-5 M195.5,649.7 v-5 M253.5,649.7 v-5 M283.5,649.7 v-5 M304.5,649.7 v-5 M102.5,649.7 v-5 M119.5,649.7 v-5 M128.5,649.7 v-5 M128.5,649.7 v-5 M136.5,649.7 v-5 M140.5,649.7 v-5 M144.5,649.7 v-5 M157.5,649.7 v-5 M157.5,649.7 v-5 M161.5,649.7 v-5 M170.5,649.7 v-5 M170.5,649.7 v-5 M174.5,649.7 v-5 M182.5,649.7 v-5 M186.5,649.7 v-5 M186.5,649.7 v-5 M186.5,649.7 v-5 M190.5,649.7 v-5 M203.5,649.7 v-5 M203.5,649.7 v-5 M203.5,649.7 v-5 M216.5,649.7 v-5 M220.5,649.7 v-5 M220.5,649.7 v-5 M241.5,649.7 v-5 M245.5,649.7 v-5 M253.5,649.7 v-5 M262.5,649.7 v-5 M262.5,649.7 v-5 M187.5,649.7 v-5 M342.5,649.7 v-5" stroke="#808080"/>
<path class="solid" d="M101.9,613.1 C107.8,611.5 126.48,606.45 137.3,603.5 C148.12,600.55 158.93,597 166.8,595.4 C174.67,593.8 178.35,593.98 184.5,593.9 C190.65,593.82 196.8,594.53 203.7,594.9 C210.6,595.27 219.73,596.15 225.9,596.1 C232.07,596.05 236.63,595.3 240.7,594.6 C244.77,593.9 245.32,593.7 250.3,591.9 C255.28,590.1 263.83,587.52 270.6,583.8 C277.37,580.08 284.13,575.35 290.9,569.6 C297.67,563.85 305.12,555.38 311.2,549.3 C317.28,543.22 322.17,539.02 327.4,533.1 C332.63,527.18 340.07,517.02 342.6,513.8"/>
<path class="dash" d="M101.9,582.8 C104.6,583.78 112.2,587.33 118.1,588.7 C124,590.07 131.15,591.12 137.3,591 C143.45,590.88 149.1,588.75 155,588 C160.9,587.25 165.82,587.12 172.7,586.5 C179.58,585.88 188.67,584.92 196.3,584.3 C203.93,583.68 212.1,583.17 218.5,582.8 C224.9,582.43 229.4,582.82 234.7,582.1 C240,581.38 244.32,580.95 250.3,578.5 C256.28,576.05 263.83,571.95 270.6,567.4 C277.37,562.85 284.13,557.62 290.9,551.2 C297.67,544.78 305.47,536 311.2,528.9 C316.93,521.8 321.27,515.37 325.3,508.6 C329.33,501.83 332.53,494.72 335.4,488.3 C338.27,481.88 341.32,473.13 342.5,470.1"/>
<path class="dash" d="M101.9,643.4 C103.62,641.67 108.52,636.33 112.2,633 C115.88,629.67 119.82,626.23 124,623.4 C128.18,620.57 132.62,618.08 137.3,616 C141.98,613.92 147.92,612.37 152.1,610.9 C156.28,609.43 158.47,608.18 162.4,607.2 C166.33,606.22 169.55,605.37 175.7,605 C181.85,604.63 192.9,604.63 199.3,605 C205.7,605.37 209.67,606.47 214.1,607.2 C218.53,607.93 221.47,609.15 225.9,609.4 C230.33,609.65 236.27,609.07 240.7,608.7 C245.13,608.33 247.52,608.68 252.5,607.2 C257.48,605.72 264.2,602.72 270.6,599.8 C277,596.88 284.15,593.42 290.9,589.7 C297.65,585.98 305.03,581.55 311.1,577.5 C317.17,573.45 322.07,568.95 327.3,565.4 C332.53,561.85 339.97,557.73 342.5,556.2"/>
<g class="pts"><circle cx="148.75" cy="571.5" r="3.9"/><circle cx="195" cy="567.75" r="3.9"/><circle cx="253.75" cy="567" r="3.9"/><circle cx="283.25" cy="562.5" r="3.9"/><circle cx="304.25" cy="569.25" r="3.9"/><circle cx="102.5" cy="615.5" r="3.9"/><circle cx="119.5" cy="616.25" r="3.9"/><circle cx="128" cy="589.25" r="3.9"/><circle cx="128" cy="599.5" r="3.9"/><circle cx="136.25" cy="624.5" r="3.9"/><circle cx="140" cy="615" r="3.9"/><circle cx="144.25" cy="595" r="3.9"/><circle cx="157" cy="599.5" r="3.9"/><circle cx="157" cy="615" r="3.9"/><circle cx="161.25" cy="597" r="3.9"/><circle cx="170" cy="603.75" r="3.9"/><circle cx="170" cy="625.5" r="3.9"/><circle cx="174.25" cy="588" r="3.9"/><circle cx="182.5" cy="585" r="3.9"/><circle cx="186.25" cy="592.5" r="3.9"/><circle cx="186.25" cy="600" r="3.9"/><circle cx="186.25" cy="610.5" r="3.9"/><circle cx="190.5" cy="606.25" r="3.9"/><circle cx="203.75" cy="593.75" r="3.9"/><circle cx="203.75" cy="615" r="3.9"/><circle cx="203.75" cy="623.75" r="3.9"/><circle cx="216.25" cy="580" r="3.9"/><circle cx="220" cy="600" r="3.9"/><circle cx="220" cy="603.75" r="3.9"/><circle cx="241.25" cy="591.25" r="3.9"/><circle cx="245.75" cy="598" r="3.9"/><circle cx="253.75" cy="610.5" r="3.9"/><circle cx="262" cy="592" r="3.9"/><circle cx="262" cy="624.5" r="3.9"/><circle cx="187" cy="497.5" r="3.9"/><circle cx="342.5" cy="490" r="3.9"/></g>
<rect class="box" x="93.35" y="463.8" width="258.85" height="187.1" stroke-width="2"/>
<path class="tick" d="M93.35,480.3 h-14.3 M93.35,508.4 h-14.3 M93.35,536.5 h-14.3 M93.35,564.6 h-14.3 M93.35,592.7 h-14.3 M93.35,620.8 h-14.3 M93.35,648.9 h-14.3" stroke-width="2"/>
<path class="tick" d="M127.75,650.9 v15.5 M170,650.9 v15.5 M212.25,650.9 v15.5 M254.5,650.9 v15.5 M296.75,650.9 v15.5 M339,650.9 v15.5" stroke-width="2"/>
<text class="tl" transform="rotate(-90)" x="-480.3" y="60.4" font-size="22" text-anchor="middle" textLength="24.96" lengthAdjust="spacingAndGlyphs">20</text>
<text class="tl" transform="rotate(-90)" x="-536.5" y="60.4" font-size="22" text-anchor="middle" textLength="24.96" lengthAdjust="spacingAndGlyphs">10</text>
<text class="tl" transform="rotate(-90)" x="-592.7" y="60.4" font-size="22" text-anchor="middle" textLength="12.48" lengthAdjust="spacingAndGlyphs">0</text>
<text class="tl" transform="rotate(-90)" x="-648.9" y="60.4" font-size="22" text-anchor="middle" textLength="38.06" lengthAdjust="spacingAndGlyphs">−10</text>
<text class="tl" x="127.75" y="699" font-size="22.5" text-anchor="middle" textLength="39.98" lengthAdjust="spacingAndGlyphs">−0.1</text>
<text class="tl" x="212.25" y="699" font-size="22.5" text-anchor="middle" textLength="29.71" lengthAdjust="spacingAndGlyphs">0.1</text>
<text class="tl" x="296.75" y="699" font-size="22.5" text-anchor="middle" textLength="30.97" lengthAdjust="spacingAndGlyphs">0.3</text>
<text class="ttl" x="63.52" y="750.4" font-size="21.84" textLength="305.95" lengthAdjust="spacingAndGlyphs">Daily rate of water level rise/(m/d)</text>
<text class="ttl" transform="rotate(-90)" x="-730.84" y="22.7" font-size="22.65" textLength="331.45" lengthAdjust="spacingAndGlyphs">s(Daily rate of water level rise,3.12)</text>
</g>
<g>
<path class="rug" d="M524.5,649.7 v-5 M530.5,649.7 v-5 M563.5,649.7 v-5 M563.5,649.7 v-5 M563.5,649.7 v-5 M563.5,649.7 v-5 M557.5,649.7 v-5 M550.5,649.7 v-5 M583.5,649.7 v-5 M589.5,649.7 v-5 M590.5,649.7 v-5 M589.5,649.7 v-5 M596.5,649.7 v-5 M596.5,649.7 v-5 M596.5,649.7 v-5 M603.5,649.7 v-5 M603.5,649.7 v-5 M609.5,649.7 v-5 M622.5,649.7 v-5 M622.5,649.7 v-5 M628.5,649.7 v-5 M628.5,649.7 v-5 M628.5,649.7 v-5 M635.5,649.7 v-5 M635.5,649.7 v-5 M635.5,649.7 v-5 M661.5,649.7 v-5 M668.5,649.7 v-5 M680.5,649.7 v-5 M693.5,649.7 v-5 M700.5,649.7 v-5 M713.5,649.7 v-5 M752.5,649.7 v-5 M765.5,649.7 v-5 M700.5,649.7 v-5" stroke="#808080"/>
<polyline class="solid" points="524.5,605.75 765.5,571.25"/>
<path class="dash" d="M524.5,589.51 C525.5,589.54 528.49,589.63 530.48,589.69 C532.47,589.75 534.46,589.81 536.45,589.87 C538.44,589.93 540.43,589.98 542.42,590.04 C544.41,590.1 546.41,590.15 548.4,590.21 C550.39,590.27 552.39,590.32 554.38,590.37 C556.37,590.42 558.36,590.47 560.35,590.52 C562.34,590.57 564.34,590.62 566.33,590.67 C568.32,590.72 570.31,590.76 572.3,590.8 C574.29,590.84 576.28,590.88 578.27,590.91 C580.26,590.94 582.26,590.98 584.25,591 C586.24,591.02 588.24,591.04 590.23,591.04 C592.22,591.04 594.21,591.04 596.2,591.01 C598.19,590.98 600.18,590.95 602.17,590.87 C604.16,590.79 606.16,590.7 608.15,590.54 C610.14,590.38 612.13,590.19 614.12,589.92 C616.11,589.65 618.11,589.31 620.1,588.93 C622.09,588.55 624.09,588.1 626.08,587.63 C628.07,587.16 630.06,586.64 632.05,586.11 C634.04,585.58 636.03,585.02 638.02,584.45 C640.01,583.88 642.01,583.3 644,582.71 C645.99,582.12 647.99,581.53 649.98,580.93 C651.97,580.33 653.96,579.72 655.95,579.11 C657.94,578.5 659.93,577.88 661.92,577.27 C663.91,576.65 665.91,576.04 667.9,575.42 C669.89,574.8 671.89,574.18 673.88,573.56 C675.87,572.94 677.86,572.32 679.85,571.69 C681.84,571.07 683.84,570.44 685.83,569.81 C687.82,569.18 689.81,568.56 691.8,567.93 C693.79,567.3 695.78,566.67 697.77,566.04 C699.76,565.41 701.76,564.78 703.75,564.15 C705.74,563.52 707.74,562.89 709.73,562.26 C711.72,561.63 713.71,561 715.7,560.37 C717.69,559.74 719.68,559.1 721.67,558.47 C723.66,557.84 725.66,557.21 727.65,556.58 C729.64,555.95 731.63,555.31 733.62,554.68 C735.61,554.05 737.61,553.41 739.6,552.78 C741.59,552.15 743.59,551.51 745.58,550.88 C747.57,550.25 749.56,549.61 751.55,548.98 C753.54,548.35 755.53,547.71 757.52,547.08 C759.51,546.45 762.5,545.5 763.5,545.18"/>
<path class="dash" d="M524.5,621.99 C525.5,621.67 528.49,620.73 530.48,620.1 C532.47,619.47 534.46,618.84 536.45,618.21 C538.44,617.58 540.43,616.96 542.42,616.33 C544.41,615.7 546.41,615.08 548.4,614.45 C550.39,613.83 552.39,613.2 554.38,612.58 C556.37,611.96 558.36,611.33 560.35,610.71 C562.34,610.09 564.34,609.48 566.33,608.86 C568.32,608.24 570.31,607.62 572.3,607.01 C574.29,606.4 576.28,605.79 578.27,605.19 C580.26,604.59 582.26,603.98 584.25,603.39 C586.24,602.8 588.24,602.21 590.23,601.64 C592.22,601.07 594.21,600.5 596.2,599.96 C598.19,599.42 600.18,598.88 602.17,598.39 C604.16,597.9 606.16,597.42 608.15,597.01 C610.14,596.6 612.13,596.22 614.12,595.92 C616.11,595.62 618.11,595.39 620.1,595.2 C622.09,595.01 624.09,594.89 626.08,594.79 C628.07,594.69 630.06,594.64 632.05,594.6 C634.04,594.56 636.03,594.55 638.02,594.55 C640.01,594.54 642.01,594.55 644,594.57 C645.99,594.59 647.99,594.62 649.98,594.65 C651.97,594.68 653.96,594.71 655.95,594.75 C657.94,594.79 659.93,594.84 661.92,594.88 C663.91,594.92 665.91,594.97 667.9,595.02 C669.89,595.07 671.89,595.12 673.88,595.17 C675.87,595.22 677.86,595.28 679.85,595.33 C681.84,595.38 683.84,595.44 685.83,595.5 C687.82,595.56 689.81,595.61 691.8,595.67 C693.79,595.73 695.78,595.79 697.77,595.85 C699.76,595.91 701.76,595.97 703.75,596.03 C705.74,596.09 707.74,596.15 709.73,596.21 C711.72,596.27 713.71,596.33 715.7,596.39 C717.69,596.45 719.68,596.51 721.67,596.57 C723.66,596.63 725.66,596.7 727.65,596.76 C729.64,596.82 731.63,596.89 733.62,596.95 C735.61,597.01 737.61,597.07 739.6,597.13 C741.59,597.19 743.59,597.26 745.58,597.32 C747.57,597.38 749.56,597.45 751.55,597.51 C753.54,597.57 755.53,597.63 757.52,597.7 C759.51,597.77 762.5,597.87 763.5,597.9"/>
<g class="pts"><circle cx="524.5" cy="589.25" r="3.9"/><circle cx="530.5" cy="590.5" r="3.9"/><circle cx="563.75" cy="586.25" r="3.9"/><circle cx="563.75" cy="595" r="3.9"/><circle cx="563.75" cy="601.25" r="3.9"/><circle cx="563.75" cy="607" r="3.9"/><circle cx="557.5" cy="608.75" r="3.9"/><circle cx="550.75" cy="613.75" r="3.9"/><circle cx="583.75" cy="607.5" r="3.9"/><circle cx="589.5" cy="587" r="3.9"/><circle cx="590" cy="598.75" r="3.9"/><circle cx="589.5" cy="617.5" r="3.9"/><circle cx="596.75" cy="612" r="3.9"/><circle cx="596.75" cy="625.5" r="3.9"/><circle cx="596.75" cy="566.75" r="3.9"/><circle cx="603.75" cy="596.25" r="3.9"/><circle cx="603.75" cy="602.5" r="3.9"/><circle cx="609.5" cy="598.75" r="3.9"/><circle cx="622" cy="588.75" r="3.9"/><circle cx="622" cy="610.75" r="3.9"/><circle cx="628.75" cy="585" r="3.9"/><circle cx="628.75" cy="607" r="3.9"/><circle cx="628.75" cy="566.25" r="3.9"/><circle cx="635" cy="564.25" r="3.9"/><circle cx="635" cy="588.75" r="3.9"/><circle cx="635" cy="593.75" r="3.9"/><circle cx="661.25" cy="585" r="3.9"/><circle cx="668" cy="620.5" r="3.9"/><circle cx="680.5" cy="560.75" r="3.9"/><circle cx="693.75" cy="583.75" r="3.9"/><circle cx="700" cy="592" r="3.9"/><circle cx="713" cy="608" r="3.9"/><circle cx="752" cy="593.75" r="3.9"/><circle cx="765.5" cy="583" r="3.9"/><circle cx="700" cy="484.5" r="3.9"/></g>
<rect class="box" x="515.4" y="463.95" width="259.65" height="186.95" stroke-width="2"/>
<path class="tick" d="M515.4,480.3 h-13.9 M515.4,508.4 h-13.9 M515.4,536.5 h-13.9 M515.4,564.6 h-13.9 M515.4,592.7 h-13.9 M515.4,620.8 h-13.9 M515.4,648.9 h-13.9" stroke-width="2"/>
<path class="tick" d="M537.5,650.9 v15 M602.5,650.9 v15 M667.5,650.9 v15 M732.5,650.9 v15" stroke-width="2"/>
<text class="tl" transform="rotate(-90)" x="-480.3" y="483.8" font-size="22" text-anchor="middle" textLength="24.96" lengthAdjust="spacingAndGlyphs">20</text>
<text class="tl" transform="rotate(-90)" x="-536.5" y="483.8" font-size="22" text-anchor="middle" textLength="24.96" lengthAdjust="spacingAndGlyphs">10</text>
<text class="tl" transform="rotate(-90)" x="-592.7" y="483.8" font-size="22" text-anchor="middle" textLength="12.48" lengthAdjust="spacingAndGlyphs">0</text>
<text class="tl" transform="rotate(-90)" x="-648.9" y="483.8" font-size="22" text-anchor="middle" textLength="38.06" lengthAdjust="spacingAndGlyphs">−10</text>
<text class="tl" x="537.5" y="699" font-size="22.5" text-anchor="middle" textLength="60.03" lengthAdjust="spacingAndGlyphs">−1000</text>
<text class="tl" x="602.5" y="699" font-size="22.5" text-anchor="middle" textLength="11.89" lengthAdjust="spacingAndGlyphs">0</text>
<text class="tl" x="667.5" y="699" font-size="22.5" text-anchor="middle" textLength="47.55" lengthAdjust="spacingAndGlyphs">1000</text>
<text class="ttl" x="460.77" y="751.6" font-size="22.6" textLength="344.9" lengthAdjust="spacingAndGlyphs">Daily tare of runoff increase/(m³/(s*d))</text>
<text class="ttl" transform="rotate(-90)" x="-712.14" y="444.2" font-size="22.91" textLength="301.25" lengthAdjust="spacingAndGlyphs">s(Daily tare of runoff increase,1)</text>
</g>
<g>
<path class="rug" d="M976.5,668.05 v-5 M998.5,668.05 v-5 M1015.5,668.05 v-5 M1018.5,668.05 v-5 M1022.5,668.05 v-5 M1028.5,668.05 v-5 M1031.5,668.05 v-5 M1033.5,668.05 v-5 M1036.5,668.05 v-5 M1039.5,668.05 v-5 M1041.5,668.05 v-5 M1044.5,668.05 v-5 M1046.5,668.05 v-5 M1049.5,668.05 v-5 M1052.5,668.05 v-5 M1054.5,668.05 v-5 M1057.5,668.05 v-5 M1059.5,668.05 v-5 M1062.5,668.05 v-5 M1065.5,668.05 v-5 M1067.5,668.05 v-5 M1070.5,668.05 v-5 M1072.5,668.05 v-5 M1075.5,668.05 v-5 M1078.5,668.05 v-5 M1080.5,668.05 v-5 M1083.5,668.05 v-5 M1085.5,668.05 v-5 M1088.5,668.05 v-5 M1091.5,668.05 v-5 M1093.5,668.05 v-5 M1096.5,668.05 v-5 M1098.5,668.05 v-5 M1101.5,668.05 v-5 M1104.5,668.05 v-5 M1106.5,668.05 v-5 M1109.5,668.05 v-5 M1111.5,668.05 v-5 M1116.5,668.05 v-5 M1118.5,668.05 v-5 M1121.5,668.05 v-5 M1124.5,668.05 v-5 M1126.5,668.05 v-5 M1129.5,668.05 v-5 M1131.5,668.05 v-5 M1134.5,668.05 v-5 M1137.5,668.05 v-5 M1139.5,668.05 v-5 M1142.5,668.05 v-5 M1144.5,668.05 v-5 M1147.5,668.05 v-5 M1150.5,668.05 v-5 M1152.5,668.05 v-5 M1155.5,668.05 v-5 M1157.5,668.05 v-5 M1160.5,668.05 v-5 M1163.5,668.05 v-5 M1165.5,668.05 v-5 M1168.5,668.05 v-5 M1170.5,668.05 v-5 M1179.5,668.05 v-5 M1181.5,668.05 v-5 M1184.5,668.05 v-5 M1186.5,668.05 v-5 M1189.5,668.05 v-5 M1195.5,668.05 v-5 M1203.5,668.05 v-5 M1238.5,668.05 v-5 M1246.5,668.05 v-5" stroke="#505050"/>
<path class="solid" d="M976,638.5 C983.33,638.25 1002.67,637.58 1020,637 C1037.33,636.42 1060,635.5 1080,635 C1100,634.5 1120,634.37 1140,634 C1160,633.63 1182.33,633.13 1200,632.8 C1217.67,632.47 1238.33,632.13 1246,632"/>
<path class="dash" d="M976,634 C983.33,634 1002.67,634.25 1020,634 C1037.33,633.75 1060,633 1080,632.5 C1100,632 1120,631.58 1140,631 C1160,630.42 1182.33,629.67 1200,629 C1217.67,628.33 1238.33,627.33 1246,627"/>
<path class="dash" d="M976,643 C983.33,642.5 1002.67,640.92 1020,640 C1037.33,639.08 1060,638.08 1080,637.5 C1100,636.92 1120,636.67 1140,636.5 C1160,636.33 1182.33,636.42 1200,636.5 C1217.67,636.58 1238.33,636.92 1246,637"/>
<g class="pts"><circle cx="976.3" cy="640.2" r="3.9"/><circle cx="979.4" cy="636.1" r="3.9"/><circle cx="978.3" cy="643.3" r="3.9"/><circle cx="992.7" cy="638.1" r="3.9"/><circle cx="995.8" cy="640.2" r="3.9"/><circle cx="1006.1" cy="638.1" r="3.9"/><circle cx="1015.3" cy="644.3" r="3.9"/><circle cx="1018.4" cy="634" r="3.9"/><circle cx="1022.5" cy="632" r="3.9"/><circle cx="1023.5" cy="661.7" r="3.9"/><circle cx="1026.6" cy="636.1" r="3.9"/><circle cx="1030.7" cy="630.9" r="3.9"/><circle cx="1035.8" cy="638.1" r="3.9"/><circle cx="1038.9" cy="628.9" r="3.9"/><circle cx="1040" cy="641.2" r="3.9"/><circle cx="1046.1" cy="625.8" r="3.9"/><circle cx="1047.1" cy="636.1" r="3.9"/><circle cx="1050.2" cy="648.4" r="3.9"/><circle cx="1052.3" cy="625.8" r="3.9"/><circle cx="1054.3" cy="638.1" r="3.9"/><circle cx="1061.5" cy="626.8" r="3.9"/><circle cx="1062.5" cy="643.3" r="3.9"/><circle cx="1065.6" cy="636.1" r="3.9"/><circle cx="1067.7" cy="643.3" r="3.9"/><circle cx="1071.8" cy="632" r="3.9"/><circle cx="1077.9" cy="636.1" r="3.9"/><circle cx="1082" cy="627.9" r="3.9"/><circle cx="1088.2" cy="638.1" r="3.9"/><circle cx="1090.3" cy="608.9" r="3.9"/><circle cx="1093.3" cy="622.7" r="3.9"/><circle cx="1098.5" cy="636.1" r="3.9"/><circle cx="1102.6" cy="624.8" r="3.9"/><circle cx="1106.2" cy="615.5" r="3.9"/><circle cx="1107.7" cy="629.9" r="3.9"/><circle cx="1109.8" cy="647.4" r="3.9"/><circle cx="1112.8" cy="634" r="3.9"/><circle cx="1020" cy="640" r="3.9"/><circle cx="1028" cy="642" r="3.9"/><circle cx="1033" cy="632" r="3.9"/><circle cx="1043" cy="633" r="3.9"/><circle cx="1044" cy="644" r="3.9"/><circle cx="1050" cy="632" r="3.9"/><circle cx="1058" cy="640" r="3.9"/><circle cx="1058" cy="631" r="3.9"/><circle cx="1064" cy="630" r="3.9"/><circle cx="1070" cy="640" r="3.9"/><circle cx="1075" cy="630" r="3.9"/><circle cx="1080" cy="640" r="3.9"/><circle cx="1085" cy="632" r="3.9"/><circle cx="1092" cy="634" r="3.9"/><circle cx="1095" cy="642" r="3.9"/><circle cx="1100" cy="630" r="3.9"/><circle cx="1104" cy="640" r="3.9"/><circle cx="1056" cy="646" r="3.9"/><circle cx="1042" cy="628" r="3.9"/><circle cx="1107.1" cy="615" r="3.9"/><circle cx="1108.1" cy="627.9" r="3.9"/><circle cx="1109.1" cy="638.1" r="3.9"/><circle cx="1109.1" cy="647.4" r="3.9"/><circle cx="1117.3" cy="632" r="3.9"/><circle cx="1125.5" cy="644.3" r="3.9"/><circle cx="1129.1" cy="622.7" r="3.9"/><circle cx="1131.7" cy="634" r="3.9"/><circle cx="1138.9" cy="632" r="3.9"/><circle cx="1145" cy="627.9" r="3.9"/><circle cx="1153.3" cy="617.6" r="3.9"/><circle cx="1157.4" cy="612.5" r="3.9"/><circle cx="1157.4" cy="626.8" r="3.9"/><circle cx="1158.4" cy="636.1" r="3.9"/><circle cx="1157.4" cy="642.2" r="3.9"/><circle cx="1162.5" cy="644.3" r="3.9"/><circle cx="1166.6" cy="638.1" r="3.9"/><circle cx="1171.7" cy="633" r="3.9"/><circle cx="1172.8" cy="645.3" r="3.9"/><circle cx="1180" cy="625.8" r="3.9"/><circle cx="1184.1" cy="614.5" r="3.9"/><circle cx="1184.1" cy="634" r="3.9"/><circle cx="1188.2" cy="636.1" r="3.9"/><circle cx="1193.3" cy="634" r="3.9"/><circle cx="1201.5" cy="635" r="3.9"/><circle cx="1203.6" cy="636.1" r="3.9"/><circle cx="1239.5" cy="633" r="3.9"/><circle cx="1245.7" cy="628.9" r="3.9"/><circle cx="1246.7" cy="635" r="3.9"/><circle cx="1122" cy="636" r="3.9"/><circle cx="1135" cy="636" r="3.9"/><circle cx="1150" cy="632" r="3.9"/><circle cx="1165" cy="630" r="3.9"/><circle cx="1112" cy="640" r="3.9"/><circle cx="1018.48" cy="634.76" r="3.9"/><circle cx="1018" cy="639.1" r="3.9"/><circle cx="1023.58" cy="634.26" r="3.9"/><circle cx="1022.8" cy="639.4" r="3.9"/><circle cx="1028.68" cy="633.76" r="3.9"/><circle cx="1027.54" cy="640.03" r="3.9"/><circle cx="1033.75" cy="633.26" r="3.9"/><circle cx="1032.64" cy="639.53" r="3.9"/><circle cx="1032.4" cy="640" r="3.9"/><circle cx="1035.85" cy="632.76" r="3.9"/><circle cx="1037.74" cy="639.03" r="3.9"/><circle cx="1037.2" cy="640.3" r="3.9"/><circle cx="1040.95" cy="632.25" r="3.9"/><circle cx="1042.81" cy="638.52" r="3.9"/><circle cx="1042" cy="640.6" r="3.9"/><circle cx="1046.23" cy="632.62" r="3.9"/><circle cx="1048.09" cy="635.89" r="3.9"/><circle cx="1046.8" cy="640.9" r="3.9"/><circle cx="1051.78" cy="631.42" r="3.9"/><circle cx="1050.64" cy="637.69" r="3.9"/><circle cx="1051.6" cy="640.94" r="3.9"/><circle cx="1057.33" cy="633.22" r="3.9"/><circle cx="1056.19" cy="636.49" r="3.9"/><circle cx="1056.4" cy="640.46" r="3.9"/><circle cx="1059.88" cy="632.02" r="3.9"/><circle cx="1061.77" cy="638.26" r="3.9"/><circle cx="1061.2" cy="639.98" r="3.9"/><circle cx="1065.34" cy="633.35" r="3.9"/><circle cx="1067.23" cy="639.62" r="3.9"/><circle cx="1066" cy="639.5" r="3.9"/><circle cx="1070.47" cy="632.98" r="3.9"/><circle cx="1069.36" cy="639.25" r="3.9"/><circle cx="1070.8" cy="639.05" r="3.9"/><circle cx="1075.6" cy="632.64" r="3.9"/><circle cx="1074.46" cy="635.88" r="3.9"/><circle cx="1075.6" cy="638.73" r="3.9"/><circle cx="1080.73" cy="632.28" r="3.9"/><circle cx="1079.59" cy="635.55" r="3.9"/><circle cx="1080.4" cy="638.41" r="3.9"/><circle cx="1085.89" cy="632.22" r="3.9"/><circle cx="1084.78" cy="635.49" r="3.9"/><circle cx="1085.2" cy="638.09" r="3.9"/><circle cx="1091.08" cy="632.16" r="3.9"/><circle cx="1089.97" cy="635.43" r="3.9"/><circle cx="1090" cy="637.77" r="3.9"/><circle cx="1093.87" cy="632.02" r="3.9"/><circle cx="1095.73" cy="635.29" r="3.9"/><circle cx="1094.8" cy="637.45" r="3.9"/><circle cx="1099.63" cy="631.88" r="3.9"/><circle cx="1099.6" cy="637.13" r="3.9"/><circle cx="1110.74" cy="633.23" r="3.9"/><circle cx="1113.47" cy="638.74" r="3.9"/><circle cx="1112" cy="640.1" r="3.9"/><circle cx="1117.86" cy="632.83" r="3.9"/><circle cx="1117.09" cy="638.34" r="3.9"/><circle cx="1124.98" cy="632.43" r="3.9"/><circle cx="1124" cy="638.1" r="3.9"/><circle cx="1128.6" cy="635.53" r="3.9"/><circle cx="1130" cy="637.1" r="3.9"/><circle cx="1134.98" cy="635.31" r="3.9"/><circle cx="1136" cy="638.1" r="3.9"/><circle cx="1141.4" cy="635.06" r="3.9"/><circle cx="1142" cy="639.1" r="3.9"/><circle cx="1147.79" cy="631.35" r="3.9"/><circle cx="1147.02" cy="640.36" r="3.9"/><circle cx="1148" cy="640.1" r="3.9"/><circle cx="1154" cy="633.78" r="3.9"/><circle cx="1153.23" cy="639.29" r="3.9"/><circle cx="1154" cy="641.1" r="3.9"/><circle cx="1160.11" cy="632.26" r="3.9"/><circle cx="1159.34" cy="637.77" r="3.9"/><circle cx="1160" cy="642.1" r="3.9"/><circle cx="1167.33" cy="632.31" r="3.9"/><circle cx="1166.56" cy="637.82" r="3.9"/><circle cx="1166" cy="640.9" r="3.9"/><circle cx="1171.02" cy="632.32" r="3.9"/><circle cx="1170.25" cy="637.83" r="3.9"/><circle cx="1178.14" cy="635.42" r="3.9"/><circle cx="1178" cy="638.3" r="3.9"/><circle cx="1185.19" cy="634.61" r="3.9"/><circle cx="1184" cy="636.7" r="3.9"/><circle cx="1190" cy="635.1" r="3.9"/></g>
<rect class="box" x="965.4" y="472.4" width="292.5" height="196.85" stroke-width="2.4"/>
<path class="tick" d="M965.4,498.8 h-16 M965.4,525.8 h-16 M965.4,552.8 h-16 M965.4,579.8 h-16 M965.4,606.8 h-16 M965.4,633.8 h-16 M965.4,660.8 h-16" stroke-width="2.4"/>
<path class="tick" d="M998.8,669.25 v15 M1038.15,669.25 v15 M1077.5,669.25 v15 M1116.85,669.25 v15 M1156.2,669.25 v15 M1195.55,669.25 v15 M1234.9,669.25 v15" stroke-width="2.4"/>
<text class="tl" transform="rotate(-90)" x="-498.8" y="928.4" font-size="24.3" text-anchor="middle" textLength="38.92" lengthAdjust="spacingAndGlyphs">100</text>
<text class="tl" transform="rotate(-90)" x="-552.8" y="928.4" font-size="24.3" text-anchor="middle" textLength="25.95" lengthAdjust="spacingAndGlyphs">60</text>
<text class="tl" transform="rotate(-90)" x="-606.8" y="928.4" font-size="24.3" text-anchor="middle" textLength="25.95" lengthAdjust="spacingAndGlyphs">20</text>
<text class="tl" transform="rotate(-90)" x="-660.8" y="928.4" font-size="24.3" text-anchor="middle" textLength="39.57" lengthAdjust="spacingAndGlyphs">−20</text>
<text class="tl" x="998.8" y="719.8" font-size="23" text-anchor="middle" textLength="49.04" lengthAdjust="spacingAndGlyphs">−0.2</text>
<text class="tl" x="1077.5" y="719.8" font-size="23" text-anchor="middle" textLength="34.53" lengthAdjust="spacingAndGlyphs">0.0</text>
<text class="tl" x="1156.2" y="719.8" font-size="23" text-anchor="middle" textLength="34.53" lengthAdjust="spacingAndGlyphs">0.2</text>
<text class="tl" x="1234.9" y="719.8" font-size="23" text-anchor="middle" textLength="34.53" lengthAdjust="spacingAndGlyphs">0.4</text>
<text class="ttl" x="928.39" y="763.4" font-size="22.14" textLength="351.4" lengthAdjust="spacingAndGlyphs">Dailiy rate of water level rise/(m/d)</text>
<text class="ttl" transform="rotate(-90)" x="-748.59" y="888.8" font-size="25.05" textLength="355.75" lengthAdjust="spacingAndGlyphs">s(Dailiy rate of water level rise,1.73)</text>
</g>
<g>
<path class="rug" d="M1452.5,668.05 v-5 M1470.5,668.05 v-5 M1486.5,668.05 v-5 M1498.5,668.05 v-5 M1501.5,668.05 v-5 M1503.5,668.05 v-5 M1506.5,668.05 v-5 M1508.5,668.05 v-5 M1511.5,668.05 v-5 M1514.5,668.05 v-5 M1516.5,668.05 v-5 M1519.5,668.05 v-5 M1521.5,668.05 v-5 M1524.5,668.05 v-5 M1527.5,668.05 v-5 M1529.5,668.05 v-5 M1532.5,668.05 v-5 M1534.5,668.05 v-5 M1537.5,668.05 v-5 M1540.5,668.05 v-5 M1542.5,668.05 v-5 M1545.5,668.05 v-5 M1547.5,668.05 v-5 M1550.5,668.05 v-5 M1553.5,668.05 v-5 M1555.5,668.05 v-5 M1558.5,668.05 v-5 M1560.5,668.05 v-5 M1563.5,668.05 v-5 M1566.5,668.05 v-5 M1568.5,668.05 v-5 M1571.5,668.05 v-5 M1573.5,668.05 v-5 M1576.5,668.05 v-5 M1579.5,668.05 v-5 M1581.5,668.05 v-5 M1584.5,668.05 v-5 M1586.5,668.05 v-5 M1589.5,668.05 v-5 M1592.5,668.05 v-5 M1594.5,668.05 v-5 M1597.5,668.05 v-5 M1599.5,668.05 v-5 M1602.5,668.05 v-5 M1605.5,668.05 v-5 M1612.5,668.05 v-5 M1615.5,668.05 v-5 M1624.5,668.05 v-5 M1626.5,668.05 v-5 M1629.5,668.05 v-5 M1632.5,668.05 v-5 M1635.5,668.05 v-5 M1642.5,668.05 v-5 M1669.5,668.05 v-5 M1671.5,668.05 v-5 M1674.5,668.05 v-5 M1681.5,668.05 v-5 M1723.5,668.05 v-5" stroke="#505050"/>
<path class="solid" d="M1452.3,636 C1454.7,636.52 1461.73,638.4 1466.7,639.1 C1471.67,639.8 1477.48,640.1 1482.1,640.2 C1486.72,640.3 1488.08,640.23 1494.4,639.7 C1500.72,639.17 1509.07,638.12 1520,637 C1530.93,635.88 1546.6,634.33 1560,633 C1573.4,631.67 1589.38,629.77 1600.4,629 C1611.42,628.23 1619.08,628.73 1626.1,628.4 C1633.12,628.07 1637.37,628.12 1642.5,627 C1647.63,625.88 1652.8,624.03 1656.9,621.7 C1661,619.37 1663.92,616.45 1667.1,613 C1670.28,609.55 1672.72,605.78 1676,601 C1679.28,596.22 1682.9,591.88 1686.8,584.3 C1690.7,576.72 1695.22,565.38 1699.4,555.5 C1703.58,545.62 1708.02,535.48 1711.9,525 C1715.78,514.52 1720.9,498 1722.7,492.6"/>
<path class="dash" d="M1452.3,624.3 C1454.87,625.48 1462.73,629.78 1467.7,631.4 C1472.67,633.02 1477.65,633.48 1482.1,634 C1486.55,634.52 1488.08,634.67 1494.4,634.5 C1500.72,634.33 1509.07,633.92 1520,633 C1530.93,632.08 1546.67,630.25 1560,629 C1573.33,627.75 1588.65,626.28 1600,625.5 C1611.35,624.72 1620.68,624.93 1628.1,624.3 C1635.52,623.67 1639.53,623.17 1644.5,621.7 C1649.47,620.23 1653.78,618.07 1657.9,615.5 C1662.02,612.93 1665.95,609.55 1669.2,606.3 C1672.45,603.05 1674.6,600.72 1677.4,596 C1680.2,591.28 1682.93,585.05 1686,578 C1689.07,570.95 1692.38,562.08 1695.8,553.7 C1699.22,545.32 1703.22,536.68 1706.5,527.7 C1709.78,518.72 1713.08,507 1715.5,499.8 C1717.92,492.6 1720.08,487.05 1721,484.5"/>
<path class="dash" d="M1454.3,649.4 C1456.92,649 1464.88,647.73 1470,647 C1475.12,646.27 1480,645.5 1485,645 C1490,644.5 1490.83,644.83 1500,644 C1509.17,643.17 1526.67,641.33 1540,640 C1553.33,638.67 1567.37,637 1580,636 C1592.63,635 1606.92,634.5 1615.8,634 C1624.68,633.5 1628.17,633.33 1633.3,633 C1638.43,632.67 1642.15,632.85 1646.6,632 C1651.05,631.15 1655.9,630.13 1660,627.9 C1664.1,625.67 1667.78,622.2 1671.2,618.6 C1674.62,615 1678.03,610.23 1680.5,606.3 C1682.97,602.37 1683.75,599.57 1686,595 C1688.25,590.43 1691.17,585.78 1694,578.9 C1696.83,572.02 1699.42,562.23 1703,553.7 C1706.58,545.17 1712.37,534.43 1715.5,527.7 C1718.63,520.97 1720.75,515.7 1721.8,513.3"/>
<g class="pts"><circle cx="1452.3" cy="634" r="3.9"/><circle cx="1469.7" cy="645.3" r="3.9"/><circle cx="1471.8" cy="641.2" r="3.9"/><circle cx="1484.1" cy="645.3" r="3.9"/><circle cx="1487.2" cy="639.1" r="3.9"/><circle cx="1497.5" cy="641.2" r="3.9"/><circle cx="1502.6" cy="636.1" r="3.9"/><circle cx="1507.7" cy="633" r="3.9"/><circle cx="1510.8" cy="641.2" r="3.9"/><circle cx="1516" cy="626.8" r="3.9"/><circle cx="1517" cy="647.4" r="3.9"/><circle cx="1520.1" cy="636.1" r="3.9"/><circle cx="1523.1" cy="625.8" r="3.9"/><circle cx="1526.2" cy="641.2" r="3.9"/><circle cx="1530.3" cy="634" r="3.9"/><circle cx="1533.4" cy="646.3" r="3.9"/><circle cx="1536.5" cy="625.8" r="3.9"/><circle cx="1539.6" cy="638.1" r="3.9"/><circle cx="1543.7" cy="630.9" r="3.9"/><circle cx="1548.8" cy="642.2" r="3.9"/><circle cx="1555" cy="627.9" r="3.9"/><circle cx="1558" cy="646.3" r="3.9"/><circle cx="1562.2" cy="636.1" r="3.9"/><circle cx="1567.3" cy="627.9" r="3.9"/><circle cx="1570.4" cy="647.4" r="3.9"/><circle cx="1574.5" cy="636.1" r="3.9"/><circle cx="1580.6" cy="630.9" r="3.9"/><circle cx="1584.7" cy="644.3" r="3.9"/><circle cx="1588.8" cy="624.8" r="3.9"/><circle cx="1589.9" cy="614.5" r="3.9"/><circle cx="1512" cy="636" r="3.9"/><circle cx="1515" cy="642" r="3.9"/><circle cx="1528" cy="632" r="3.9"/><circle cx="1532" cy="640" r="3.9"/><circle cx="1538" cy="644" r="3.9"/><circle cx="1545" cy="636" r="3.9"/><circle cx="1550" cy="630" r="3.9"/><circle cx="1552" cy="640" r="3.9"/><circle cx="1560" cy="630" r="3.9"/><circle cx="1565" cy="642" r="3.9"/><circle cx="1570" cy="634" r="3.9"/><circle cx="1576" cy="644" r="3.9"/><circle cx="1578" cy="628" r="3.9"/><circle cx="1585" cy="636" r="3.9"/><circle cx="1522" cy="644" r="3.9"/><circle cx="1506" cy="644" r="3.9"/><circle cx="1495" cy="636" r="3.9"/><circle cx="1544" cy="646" r="3.9"/><circle cx="1558" cy="638" r="3.9"/><circle cx="1592" cy="640" r="3.9"/><circle cx="1589.1" cy="624.8" r="3.9"/><circle cx="1588.1" cy="636.1" r="3.9"/><circle cx="1587.1" cy="645.3" r="3.9"/><circle cx="1594.2" cy="614.5" r="3.9"/><circle cx="1598.3" cy="613.5" r="3.9"/><circle cx="1605.5" cy="615.5" r="3.9"/><circle cx="1597.3" cy="634" r="3.9"/><circle cx="1602.5" cy="640.2" r="3.9"/><circle cx="1605.5" cy="643.3" r="3.9"/><circle cx="1612.7" cy="644.3" r="3.9"/><circle cx="1615.8" cy="619.6" r="3.9"/><circle cx="1615.8" cy="623.7" r="3.9"/><circle cx="1624" cy="609.9" r="3.9"/><circle cx="1631.2" cy="604.2" r="3.9"/><circle cx="1623" cy="632" r="3.9"/><circle cx="1628.1" cy="643.3" r="3.9"/><circle cx="1635.3" cy="637.1" r="3.9"/><circle cx="1644.5" cy="632" r="3.9"/><circle cx="1670.2" cy="608.3" r="3.9"/><circle cx="1673.3" cy="633" r="3.9"/><circle cx="1723.6" cy="491.7" r="3.9"/><circle cx="1681.4" cy="581.6" r="3.9"/><circle cx="1669.7" cy="607.7" r="3.9"/><circle cx="1498.48" cy="634.76" r="3.9"/><circle cx="1498" cy="639.1" r="3.9"/><circle cx="1502.93" cy="635" r="3.9"/><circle cx="1501.7" cy="637.86" r="3.9"/><circle cx="1502.6" cy="640.55" r="3.9"/><circle cx="1507.35" cy="632.2" r="3.9"/><circle cx="1506.15" cy="638.09" r="3.9"/><circle cx="1507.95" cy="640.95" r="3.9"/><circle cx="1507.2" cy="642.01" r="3.9"/><circle cx="1511.77" cy="629.41" r="3.9"/><circle cx="1510.57" cy="635.3" r="3.9"/><circle cx="1512.37" cy="638.16" r="3.9"/><circle cx="1511.8" cy="643.46" r="3.9"/><circle cx="1516.43" cy="627.73" r="3.9"/><circle cx="1515.23" cy="633.62" r="3.9"/><circle cx="1517.03" cy="639.51" r="3.9"/><circle cx="1515.83" cy="642.37" r="3.9"/><circle cx="1516.4" cy="644.91" r="3.9"/><circle cx="1521.6" cy="628.6" r="3.9"/><circle cx="1520.4" cy="634.49" r="3.9"/><circle cx="1522.2" cy="637.38" r="3.9"/><circle cx="1521" cy="643.24" r="3.9"/><circle cx="1521" cy="644.66" r="3.9"/><circle cx="1526.77" cy="629.47" r="3.9"/><circle cx="1525.57" cy="632.36" r="3.9"/><circle cx="1524.37" cy="638.25" r="3.9"/><circle cx="1526.17" cy="644.11" r="3.9"/><circle cx="1525.6" cy="644.14" r="3.9"/><circle cx="1528.97" cy="627.44" r="3.9"/><circle cx="1530.77" cy="633.3" r="3.9"/><circle cx="1529.54" cy="639.19" r="3.9"/><circle cx="1531.34" cy="642.05" r="3.9"/><circle cx="1530.2" cy="643.63" r="3.9"/><circle cx="1534.5" cy="630.07" r="3.9"/><circle cx="1536.27" cy="632.96" r="3.9"/><circle cx="1535.07" cy="638.82" r="3.9"/><circle cx="1534.8" cy="643.12" r="3.9"/><circle cx="1540.03" cy="629.73" r="3.9"/><circle cx="1538.8" cy="635.59" r="3.9"/><circle cx="1540.6" cy="638.48" r="3.9"/><circle cx="1539.4" cy="642.81" r="3.9"/><circle cx="1545.23" cy="630.81" r="3.9"/><circle cx="1544.03" cy="636.7" r="3.9"/><circle cx="1542.83" cy="639.59" r="3.9"/><circle cx="1544" cy="642.5" r="3.9"/><circle cx="1547.4" cy="631.68" r="3.9"/><circle cx="1549.2" cy="634.57" r="3.9"/><circle cx="1548" cy="640.46" r="3.9"/><circle cx="1548.6" cy="642.19" r="3.9"/><circle cx="1552.57" cy="629.55" r="3.9"/><circle cx="1554.37" cy="635.44" r="3.9"/><circle cx="1553.17" cy="641.33" r="3.9"/><circle cx="1553.2" cy="642.74" r="3.9"/><circle cx="1557.89" cy="631.15" r="3.9"/><circle cx="1556.69" cy="637.04" r="3.9"/><circle cx="1558.49" cy="639.9" r="3.9"/><circle cx="1557.8" cy="643.66" r="3.9"/><circle cx="1563.3" cy="633.21" r="3.9"/><circle cx="1562.1" cy="636.1" r="3.9"/><circle cx="1560.9" cy="641.96" r="3.9"/><circle cx="1562.4" cy="644.58" r="3.9"/><circle cx="1565.71" cy="632.26" r="3.9"/><circle cx="1567.51" cy="638.15" r="3.9"/><circle cx="1566.31" cy="641.01" r="3.9"/><circle cx="1567" cy="644.72" r="3.9"/><circle cx="1570.97" cy="633.51" r="3.9"/><circle cx="1572.74" cy="636.4" r="3.9"/><circle cx="1571.54" cy="642.26" r="3.9"/><circle cx="1571.6" cy="643.84" r="3.9"/><circle cx="1575.9" cy="633.27" r="3.9"/><circle cx="1574.7" cy="636.16" r="3.9"/><circle cx="1576.5" cy="642.05" r="3.9"/><circle cx="1576.2" cy="642.97" r="3.9"/><circle cx="1580.86" cy="630.05" r="3.9"/><circle cx="1579.63" cy="635.91" r="3.9"/><circle cx="1581.43" cy="641.8" r="3.9"/><circle cx="1580.8" cy="642.09" r="3.9"/><circle cx="1585.79" cy="629.81" r="3.9"/><circle cx="1584.59" cy="635.67" r="3.9"/><circle cx="1586.39" cy="641.56" r="3.9"/><circle cx="1585.4" cy="641.21" r="3.9"/></g>
<rect class="box" x="1441.4" y="472.4" width="292.7" height="196.85" stroke-width="2.4"/>
<path class="tick" d="M1441.4,498.5 h-15.5 M1441.4,525.6 h-15.5 M1441.4,552.7 h-15.5 M1441.4,579.8 h-15.5 M1441.4,606.9 h-15.5 M1441.4,634 h-15.5 M1441.4,661.1 h-15.5" stroke-width="2.4"/>
<path class="tick" d="M1471.05,669.25 v15 M1509.15,669.25 v15 M1547.25,669.25 v15 M1585.35,669.25 v15 M1623.45,669.25 v15 M1661.55,669.25 v15 M1699.65,669.25 v15" stroke-width="2.4"/>
<text class="tl" transform="rotate(-90)" x="-498.5" y="1405.4" font-size="24.3" text-anchor="middle" textLength="38.92" lengthAdjust="spacingAndGlyphs">100</text>
<text class="tl" transform="rotate(-90)" x="-552.7" y="1405.4" font-size="24.3" text-anchor="middle" textLength="25.95" lengthAdjust="spacingAndGlyphs">60</text>
<text class="tl" transform="rotate(-90)" x="-606.9" y="1405.4" font-size="24.3" text-anchor="middle" textLength="25.95" lengthAdjust="spacingAndGlyphs">20</text>
<text class="tl" transform="rotate(-90)" x="-661.1" y="1405.4" font-size="24.3" text-anchor="middle" textLength="39.57" lengthAdjust="spacingAndGlyphs">−20</text>
<text class="tl" x="1471.05" y="719.8" font-size="23" text-anchor="middle" textLength="70.22" lengthAdjust="spacingAndGlyphs">−2000</text>
<text class="tl" x="1547.25" y="719.8" font-size="23" text-anchor="middle" textLength="13.43" lengthAdjust="spacingAndGlyphs">0</text>
<text class="tl" x="1623.45" y="719.8" font-size="23" text-anchor="middle" textLength="53.72" lengthAdjust="spacingAndGlyphs">2000</text>
<text class="tl" x="1699.65" y="719.8" font-size="23" text-anchor="middle" textLength="52.45" lengthAdjust="spacingAndGlyphs">4000</text>
<text class="ttl" x="1381.29" y="761" font-size="22.76" textLength="387.4" lengthAdjust="spacingAndGlyphs">Daily tare of runoff increase/(m³/(s*d))</text>
<text class="ttl" transform="rotate(-90)" x="-742.69" y="1366.8" font-size="25.81" textLength="345.64" lengthAdjust="spacingAndGlyphs">s(Daily tare of runoff increase,7.59)</text>
</g>
<text class="lab" x="371.33" y="36.9" font-size="31.69" textLength="44.38" lengthAdjust="spacingAndGlyphs">HK</text>
<text class="lab" x="1279.28" y="36.9" font-size="31.61" textLength="49.71" lengthAdjust="spacingAndGlyphs">AQ</text>
</svg>
</body></html>
